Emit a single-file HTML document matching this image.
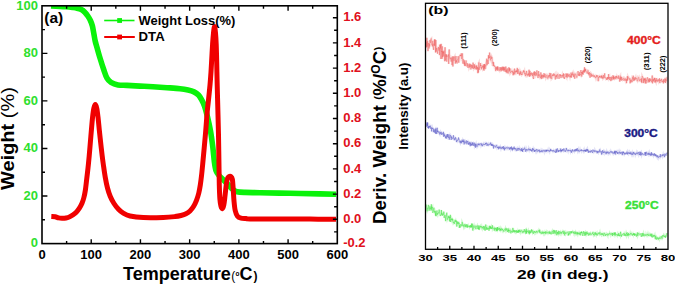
<!DOCTYPE html><html><head><meta charset="utf-8"><style>html,body{margin:0;padding:0;background:#fff;}body{width:675px;height:284px;position:relative;overflow:hidden;font-family:"Liberation Sans",sans-serif;}</style></head><body><svg width="675" height="284" viewBox="0 0 675 284" style="position:absolute;left:0;top:0">
<defs><clipPath id="ca"><rect x="42.00" y="5.80" width="295.30" height="237.80"/></clipPath></defs>
<g clip-path="url(#ca)">
<path d="M51.00,6.00 C52.50,6.07 57.50,6.27 60.00,6.40 C62.50,6.53 63.92,6.62 66.00,6.80 C68.08,6.98 70.67,7.27 72.50,7.50 C74.33,7.73 75.53,7.85 77.00,8.20 C78.47,8.55 80.00,8.93 81.30,9.60 C82.60,10.27 83.72,11.13 84.80,12.20 C85.88,13.27 86.87,14.62 87.80,16.00 C88.73,17.38 89.63,18.83 90.40,20.50 C91.17,22.17 91.82,23.75 92.40,26.00 C92.98,28.25 93.43,31.50 93.90,34.00 C94.37,36.50 94.68,38.75 95.20,41.00 C95.72,43.25 96.20,44.67 97.00,47.50 C97.80,50.33 98.88,54.33 100.00,58.00 C101.12,61.67 102.53,66.13 103.70,69.50 C104.87,72.87 105.78,76.05 107.00,78.20 C108.22,80.35 109.17,81.28 111.00,82.40 C112.83,83.52 115.33,84.40 118.00,84.90 C120.67,85.40 123.33,85.20 127.00,85.40 C130.67,85.60 135.67,85.87 140.00,86.10 C144.33,86.33 148.50,86.53 153.00,86.80 C157.50,87.07 162.50,87.38 167.00,87.70 C171.50,88.02 176.50,88.32 180.00,88.70 C183.50,89.08 185.67,89.47 188.00,90.00 C190.33,90.53 192.25,91.07 194.00,91.90 C195.75,92.73 197.25,93.73 198.50,95.00 C199.75,96.27 200.50,97.67 201.50,99.50 C202.50,101.33 203.50,103.08 204.50,106.00 C205.50,108.92 206.50,112.83 207.50,117.00 C208.50,121.17 209.62,126.00 210.50,131.00 C211.38,136.00 212.15,141.83 212.80,147.00 C213.45,152.17 213.87,158.08 214.40,162.00 C214.93,165.92 215.23,168.25 216.00,170.50 C216.77,172.75 217.78,173.97 219.00,175.50 C220.22,177.03 221.72,178.12 223.30,179.70 C224.88,181.28 226.88,183.35 228.50,185.00 C230.12,186.65 231.58,188.48 233.00,189.60 C234.42,190.72 235.00,191.23 237.00,191.70 C239.00,192.17 241.17,192.23 245.00,192.40 C248.83,192.57 252.50,192.55 260.00,192.70 C267.50,192.85 280.00,193.10 290.00,193.30 C300.00,193.50 312.33,193.73 320.00,193.90 C327.67,194.07 333.33,194.23 336.00,194.30" fill="none" stroke="#0af20a" stroke-width="5.6" stroke-linejoin="round" stroke-linecap="butt"/>
<path d="M51.30,216.60 C51.95,216.63 54.00,216.58 55.20,216.80 C56.40,217.02 57.37,217.65 58.50,217.90 C59.63,218.15 60.75,218.28 62.00,218.30 C63.25,218.32 64.67,218.28 66.00,218.00 C67.33,217.72 68.40,217.45 70.00,216.60 C71.60,215.75 74.08,214.23 75.60,212.90 C77.12,211.57 78.03,210.20 79.10,208.60 C80.17,207.00 81.20,205.15 82.00,203.30 C82.80,201.45 83.33,199.72 83.90,197.50 C84.47,195.28 84.95,192.92 85.40,190.00 C85.85,187.08 86.17,183.67 86.60,180.00 C87.03,176.33 87.57,172.00 88.00,168.00 C88.43,164.00 88.82,160.17 89.20,156.00 C89.58,151.83 89.93,147.33 90.30,143.00 C90.67,138.67 91.02,134.33 91.40,130.00 C91.78,125.67 92.20,120.58 92.60,117.00 C93.00,113.42 93.35,110.57 93.80,108.50 C94.25,106.43 94.80,104.60 95.30,104.60 C95.80,104.60 96.33,106.27 96.80,108.50 C97.27,110.73 97.68,114.42 98.10,118.00 C98.52,121.58 98.87,125.83 99.30,130.00 C99.73,134.17 100.22,138.67 100.70,143.00 C101.18,147.33 101.75,152.33 102.20,156.00 C102.65,159.67 102.90,161.50 103.40,165.00 C103.90,168.50 104.52,173.17 105.20,177.00 C105.88,180.83 106.65,184.75 107.50,188.00 C108.35,191.25 109.22,193.92 110.30,196.50 C111.38,199.08 112.63,201.37 114.00,203.50 C115.37,205.63 116.95,207.68 118.50,209.30 C120.05,210.92 121.38,212.08 123.30,213.20 C125.22,214.32 126.67,215.27 130.00,216.00 C133.33,216.73 137.75,217.35 143.30,217.60 C148.85,217.85 158.02,217.67 163.30,217.50 C168.58,217.33 172.05,216.93 175.00,216.60 C177.95,216.27 179.17,215.97 181.00,215.50 C182.83,215.03 184.50,214.55 186.00,213.80 C187.50,213.05 188.75,212.22 190.00,211.00 C191.25,209.78 192.42,208.28 193.50,206.50 C194.58,204.72 195.62,202.55 196.50,200.30 C197.38,198.05 198.17,195.55 198.80,193.00 C199.43,190.45 199.83,188.00 200.30,185.00 C200.77,182.00 201.18,178.67 201.60,175.00 C202.02,171.33 202.37,167.50 202.80,163.00 C203.23,158.50 203.70,153.50 204.20,148.00 C204.70,142.50 205.30,136.00 205.80,130.00 C206.30,124.00 206.75,117.00 207.20,112.00 C207.65,107.00 208.03,104.50 208.50,100.00 C208.97,95.50 209.58,89.67 210.00,85.00 C210.42,80.33 210.70,76.50 211.00,72.00 C211.30,67.50 211.53,62.67 211.80,58.00 C212.07,53.33 212.32,48.17 212.60,44.00 C212.88,39.83 213.18,35.92 213.50,33.00 C213.82,30.08 214.17,26.50 214.50,26.50 C214.83,26.50 215.22,30.08 215.50,33.00 C215.78,35.92 216.02,39.83 216.20,44.00 C216.38,48.17 216.48,53.33 216.60,58.00 C216.72,62.67 216.80,67.50 216.90,72.00 C217.00,76.50 217.08,80.33 217.20,85.00 C217.32,89.67 217.47,95.00 217.60,100.00 C217.73,105.00 217.85,109.17 218.00,115.00 C218.15,120.83 218.35,127.50 218.50,135.00 C218.65,142.50 218.77,151.67 218.90,160.00 C219.03,168.33 219.13,178.50 219.30,185.00 C219.47,191.50 219.63,195.50 219.90,199.00 C220.17,202.50 220.50,204.40 220.90,206.00 C221.30,207.60 221.82,208.77 222.30,208.60 C222.78,208.43 223.35,207.10 223.80,205.00 C224.25,202.90 224.62,199.17 225.00,196.00 C225.38,192.83 225.72,188.83 226.10,186.00 C226.48,183.17 226.82,180.57 227.30,179.00 C227.78,177.43 228.38,177.00 229.00,176.60 C229.62,176.20 230.43,176.12 231.00,176.60 C231.57,177.08 232.03,177.43 232.40,179.50 C232.77,181.57 232.93,185.42 233.20,189.00 C233.47,192.58 233.67,197.42 234.00,201.00 C234.33,204.58 234.62,207.97 235.20,210.50 C235.78,213.03 236.53,214.92 237.50,216.20 C238.47,217.48 239.58,217.80 241.00,218.20 C242.42,218.60 244.50,218.48 246.00,218.60 C247.50,218.72 244.33,218.83 250.00,218.90 C255.67,218.97 270.00,218.97 280.00,219.00 C290.00,219.03 300.67,219.07 310.00,219.10 C319.33,219.13 331.67,219.18 336.00,219.20" fill="none" stroke="#f00000" stroke-width="5.0" stroke-linejoin="round" stroke-linecap="butt"/>
</g>
<rect x="42.00" y="5.80" width="295.30" height="237.80" fill="none" stroke="#000" stroke-width="1.6"/>
<path d="M66.61,243.60V241.00 M66.61,5.80V8.80 M91.22,243.60V239.30 M91.22,5.80V10.80 M115.83,243.60V241.00 M115.83,5.80V8.80 M140.43,243.60V239.30 M140.43,5.80V10.80 M165.04,243.60V241.00 M165.04,5.80V8.80 M189.65,243.60V239.30 M189.65,5.80V10.80 M214.26,243.60V241.00 M214.26,5.80V8.80 M238.87,243.60V239.30 M238.87,5.80V10.80 M263.48,243.60V241.00 M263.48,5.80V8.80 M288.08,243.60V239.30 M288.08,5.80V10.80 M312.69,243.60V241.00 M312.69,5.80V8.80 M42.00,219.82H45.00 M42.00,196.04H47.40 M42.00,172.26H45.00 M42.00,148.48H47.40 M42.00,124.70H45.00 M42.00,100.92H47.40 M42.00,77.14H45.00 M42.00,53.36H47.40 M42.00,29.58H45.00 M337.30,231.90H334.10 M337.30,219.30H332.90 M337.30,206.70H334.10 M337.30,194.10H332.90 M337.30,181.50H334.10 M337.30,168.90H332.90 M337.30,156.30H334.10 M337.30,143.70H332.90 M337.30,131.10H334.10 M337.30,118.50H332.90 M337.30,105.90H334.10 M337.30,93.30H332.90 M337.30,80.70H334.10 M337.30,68.10H332.90 M337.30,55.50H334.10 M337.30,42.90H332.90 M337.30,30.30H334.10 M337.30,17.70H332.90" stroke="#000" stroke-width="1.4" fill="none"/>
<text x="42.00" y="259.3" text-anchor="middle" style="font-family:'Liberation Sans',sans-serif;font-weight:bold;font-size:13px" fill="#000">0</text>
<text x="91.22" y="259.3" text-anchor="middle" style="font-family:'Liberation Sans',sans-serif;font-weight:bold;font-size:13px" fill="#000">100</text>
<text x="140.43" y="259.3" text-anchor="middle" style="font-family:'Liberation Sans',sans-serif;font-weight:bold;font-size:13px" fill="#000">200</text>
<text x="189.65" y="259.3" text-anchor="middle" style="font-family:'Liberation Sans',sans-serif;font-weight:bold;font-size:13px" fill="#000">300</text>
<text x="238.87" y="259.3" text-anchor="middle" style="font-family:'Liberation Sans',sans-serif;font-weight:bold;font-size:13px" fill="#000">400</text>
<text x="288.08" y="259.3" text-anchor="middle" style="font-family:'Liberation Sans',sans-serif;font-weight:bold;font-size:13px" fill="#000">500</text>
<text x="337.30" y="259.3" text-anchor="middle" style="font-family:'Liberation Sans',sans-serif;font-weight:bold;font-size:13px" fill="#000">600</text>
<text x="38.0" y="247.20" text-anchor="end" style="font-family:'Liberation Sans',sans-serif;font-weight:bold;font-size:13px" fill="#2ee02e">0</text>
<text x="38.0" y="199.64" text-anchor="end" style="font-family:'Liberation Sans',sans-serif;font-weight:bold;font-size:13px" fill="#2ee02e">20</text>
<text x="38.0" y="152.08" text-anchor="end" style="font-family:'Liberation Sans',sans-serif;font-weight:bold;font-size:13px" fill="#2ee02e">40</text>
<text x="38.0" y="104.52" text-anchor="end" style="font-family:'Liberation Sans',sans-serif;font-weight:bold;font-size:13px" fill="#2ee02e">60</text>
<text x="38.0" y="56.96" text-anchor="end" style="font-family:'Liberation Sans',sans-serif;font-weight:bold;font-size:13px" fill="#2ee02e">80</text>
<text x="38.0" y="10.40" text-anchor="end" style="font-family:'Liberation Sans',sans-serif;font-weight:bold;font-size:13px" fill="#2ee02e">100</text>
<text x="343.2" y="246.90" style="font-family:'Liberation Sans',sans-serif;font-weight:bold;font-size:13px" fill="#e01020">-0.2</text>
<text x="343.2" y="222.90" style="font-family:'Liberation Sans',sans-serif;font-weight:bold;font-size:13px" fill="#e01020">0.0</text>
<text x="343.2" y="197.70" style="font-family:'Liberation Sans',sans-serif;font-weight:bold;font-size:13px" fill="#e01020">0.2</text>
<text x="343.2" y="172.50" style="font-family:'Liberation Sans',sans-serif;font-weight:bold;font-size:13px" fill="#e01020">0.4</text>
<text x="343.2" y="147.30" style="font-family:'Liberation Sans',sans-serif;font-weight:bold;font-size:13px" fill="#e01020">0.6</text>
<text x="343.2" y="122.10" style="font-family:'Liberation Sans',sans-serif;font-weight:bold;font-size:13px" fill="#e01020">0.8</text>
<text x="343.2" y="96.90" style="font-family:'Liberation Sans',sans-serif;font-weight:bold;font-size:13px" fill="#e01020">1.0</text>
<text x="343.2" y="71.70" style="font-family:'Liberation Sans',sans-serif;font-weight:bold;font-size:13px" fill="#e01020">1.2</text>
<text x="343.2" y="46.50" style="font-family:'Liberation Sans',sans-serif;font-weight:bold;font-size:13px" fill="#e01020">1.4</text>
<text x="343.2" y="21.30" style="font-family:'Liberation Sans',sans-serif;font-weight:bold;font-size:13px" fill="#e01020">1.6</text>
<text x="44.3" y="22.7" style="font-family:'Liberation Sans',sans-serif;font-weight:bold;font-size:15.5px" fill="#000">(a)</text>
<path d="M104.2,20.5H134.5" stroke="#0af20a" stroke-width="1.6"/>
<rect x="117.2" y="18.1" width="4.8" height="4.8" fill="#0af20a"/>
<path d="M104.2,37H134.8" stroke="#f00000" stroke-width="2"/>
<rect x="117.2" y="34.6" width="4.8" height="4.8" fill="#f00000"/>
<text x="138.6" y="25.3" style="font-family:'Liberation Sans',sans-serif;font-weight:bold;font-size:12.95px" fill="#000">Weight Loss(%)</text>
<text x="138.6" y="41.0" style="font-family:'Liberation Sans',sans-serif;font-weight:bold;font-size:13.2px" fill="#000">DTA</text>
<text x="123" y="279.7" style="font-family:'Liberation Sans',sans-serif;font-weight:bold;font-size:18px" fill="#000">Temperature</text>
<text x="231.2" y="280.1" style="font-family:'Liberation Sans',sans-serif;font-size:12px" fill="#000">(</text>
<text x="235.5" y="275.6" style="font-family:'Liberation Sans',sans-serif;font-size:6.4px;font-weight:bold" fill="#000">o</text>
<text x="239.4" y="279.7" style="font-family:'Liberation Sans',sans-serif;font-weight:bold;font-size:18px" fill="#000">C</text>
<text x="253.6" y="280.1" style="font-family:'Liberation Sans',sans-serif;font-size:12px;font-weight:bold" fill="#000">)</text>
<text transform="translate(13.7,190.0) rotate(-90) scale(1.08,1)" style="font-family:'Liberation Sans',sans-serif;font-weight:bold;font-size:18.5px" fill="#000">Weight <tspan style="font-weight:normal">(%)</tspan></text>
<text transform="translate(385.6,224) rotate(-90)" style="font-family:'Liberation Sans',sans-serif;font-weight:bold;font-size:18.6px;letter-spacing:0.15px" fill="#000">Deriv. Weight <tspan style="font-size:11.5px" dy="-3.3">(</tspan><tspan dy="3.3">%/</tspan><tspan style="font-size:12px" dy="-5.5">O</tspan><tspan dy="5.5">C</tspan><tspan style="font-size:11.5px" dy="-3.3">)</tspan></text>
<g fill="none" stroke-linejoin="miter">
<path d="M426.30,41.95 L426.58,47.36 L426.86,37.75 L427.14,46.57 L427.42,41.19 L427.70,41.39 L427.98,51.11 L428.26,43.65 L428.54,42.97 L428.82,46.53 L429.10,48.44 L429.38,43.65 L429.66,46.50 L429.94,40.05 L430.22,42.84 L430.50,42.75 L430.78,39.22 L431.06,38.71 L431.34,38.45 L431.62,44.43 L431.90,44.91 L432.18,44.52 L432.46,46.32 L432.74,40.82 L433.02,46.12 L433.30,47.61 L433.58,49.86 L433.86,43.69 L434.14,45.68 L434.42,39.51 L434.70,45.69 L434.98,39.28 L435.26,42.56 L435.54,52.56 L435.82,40.00 L436.10,51.78 L436.38,50.17 L436.66,47.93 L436.94,51.07 L437.22,51.53 L437.50,53.68 L437.78,49.09 L438.06,47.96 L438.34,48.13 L438.62,46.93 L438.90,50.62 L439.18,48.11 L439.46,55.09 L439.74,44.62 L440.02,47.66 L440.30,48.39 L440.58,44.52 L440.86,59.02 L441.14,43.88 L441.42,51.64 L441.70,51.00 L441.98,58.87 L442.26,46.32 L442.54,57.20 L442.82,51.14 L443.10,53.34 L443.38,51.77 L443.66,56.48 L443.94,50.61 L444.22,54.43 L444.50,56.10 L444.78,61.31 L445.06,47.22 L445.34,60.56 L445.62,58.78 L445.90,54.18 L446.18,56.95 L446.46,54.57 L446.74,61.66 L447.02,57.10 L447.30,55.87 L447.58,55.99 L447.86,56.24 L448.14,56.48 L448.42,54.38 L448.70,63.93 L448.98,51.43 L449.26,49.42 L449.54,57.43 L449.82,57.51 L450.10,59.28 L450.38,57.63 L450.66,57.95 L450.94,59.59 L451.22,61.69 L451.50,57.46 L451.78,57.84 L452.06,65.05 L452.34,60.87 L452.62,56.39 L452.90,66.54 L453.18,61.98 L453.46,57.99 L453.74,56.35 L454.02,60.87 L454.30,57.61 L454.58,57.05 L454.86,56.44 L455.14,58.83 L455.42,63.58 L455.70,59.06 L455.98,56.09 L456.26,62.23 L456.54,60.43 L456.82,62.60 L457.10,63.53 L457.38,59.47 L457.66,59.39 L457.94,59.48 L458.22,56.17 L458.50,61.02 L458.78,62.70 L459.06,58.99 L459.34,57.49 L459.62,57.10 L459.90,55.34 L460.18,55.05 L460.46,56.04 L460.74,54.83 L461.02,56.10 L461.30,53.27 L461.58,58.97 L461.86,58.65 L462.14,55.93 L462.42,53.39 L462.70,60.15 L462.98,63.68 L463.26,59.23 L463.54,60.37 L463.82,60.56 L464.10,64.20 L464.38,60.39 L464.66,65.75 L464.94,62.64 L465.22,66.12 L465.50,63.99 L465.78,63.50 L466.06,60.44 L466.34,62.68 L466.62,63.95 L466.90,66.49 L467.18,65.56 L467.46,63.27 L467.74,66.24 L468.02,67.84 L468.30,65.05 L468.58,64.43 L468.86,64.66 L469.14,67.82 L469.42,67.22 L469.70,63.62 L469.98,67.00 L470.26,64.95 L470.54,64.36 L470.82,69.42 L471.10,68.46 L471.38,64.70 L471.66,66.78 L471.94,67.91 L472.22,65.17 L472.50,66.53 L472.78,68.54 L473.06,62.60 L473.34,67.85 L473.62,68.92 L473.90,68.42 L474.18,64.02 L474.46,68.10 L474.74,65.32 L475.02,68.83 L475.30,68.93 L475.58,68.02 L475.86,65.69 L476.14,66.12 L476.42,69.57 L476.70,65.42 L476.98,68.73 L477.26,68.77 L477.54,66.91 L477.82,73.20 L478.10,67.74 L478.38,72.59 L478.66,62.86 L478.94,62.33 L479.22,69.83 L479.50,69.01 L479.78,66.79 L480.06,67.36 L480.34,63.07 L480.62,65.98 L480.90,65.02 L481.18,66.84 L481.46,69.32 L481.74,67.36 L482.02,68.02 L482.30,65.51 L482.58,66.03 L482.86,67.17 L483.14,66.17 L483.42,69.53 L483.70,64.57 L483.98,70.63 L484.26,64.01 L484.54,68.37 L484.82,64.05 L485.10,69.19 L485.38,65.53 L485.66,65.78 L485.94,66.17 L486.22,62.70 L486.50,61.33 L486.78,58.64 L487.06,65.21 L487.34,60.36 L487.62,59.89 L487.90,60.38 L488.18,64.01 L488.46,55.12 L488.74,58.67 L489.02,56.57 L489.30,58.01 L489.58,52.56 L489.86,55.39 L490.14,58.09 L490.42,59.88 L490.70,60.40 L490.98,55.75 L491.26,58.44 L491.54,58.90 L491.82,57.02 L492.10,57.71 L492.38,63.18 L492.66,62.83 L492.94,62.69 L493.22,66.20 L493.50,62.07 L493.78,65.82 L494.06,65.19 L494.34,65.46 L494.62,66.99 L494.90,66.67 L495.18,67.16 L495.46,67.43 L495.74,71.17 L496.02,66.70 L496.30,69.66 L496.58,69.00 L496.86,67.18 L497.14,69.71 L497.42,66.43 L497.70,70.74 L497.98,66.78 L498.26,67.56 L498.54,69.34 L498.82,70.48 L499.10,70.72 L499.38,70.78 L499.66,68.60 L499.94,67.14 L500.22,70.29 L500.50,69.85 L500.78,67.35 L501.06,71.33 L501.34,69.81 L501.62,67.52 L501.90,70.40 L502.18,66.87 L502.46,67.83 L502.74,70.46 L503.02,66.55 L503.30,69.80 L503.58,67.05 L503.86,71.29 L504.14,68.38 L504.42,70.24 L504.70,66.90 L504.98,69.25 L505.26,71.90 L505.54,70.98 L505.82,66.47 L506.10,72.03 L506.38,72.03 L506.66,69.57 L506.94,73.19 L507.22,68.34 L507.50,70.33 L507.78,72.76 L508.06,73.20 L508.34,73.19 L508.62,68.57 L508.90,67.28 L509.18,71.61 L509.46,68.08 L509.74,70.69 L510.02,68.49 L510.30,73.14 L510.58,72.69 L510.86,72.26 L511.14,71.26 L511.42,71.37 L511.70,70.75 L511.98,72.13 L512.26,71.92 L512.54,72.38 L512.82,70.71 L513.10,75.27 L513.38,72.19 L513.66,74.39 L513.94,74.32 L514.22,70.10 L514.50,68.60 L514.78,74.32 L515.06,71.21 L515.34,72.16 L515.62,71.56 L515.90,72.35 L516.18,69.87 L516.46,72.01 L516.74,71.37 L517.02,72.28 L517.30,67.89 L517.58,73.97 L517.86,73.09 L518.14,69.21 L518.42,71.16 L518.70,72.66 L518.98,73.85 L519.26,72.70 L519.54,75.38 L519.82,72.84 L520.10,70.95 L520.38,71.60 L520.66,74.33 L520.94,71.80 L521.22,74.58 L521.50,74.96 L521.78,74.18 L522.06,75.02 L522.34,72.81 L522.62,73.16 L522.90,72.10 L523.18,72.11 L523.46,70.35 L523.74,72.28 L524.02,71.36 L524.30,70.73 L524.58,73.71 L524.86,74.32 L525.14,72.87 L525.42,76.10 L525.70,75.34 L525.98,75.57 L526.26,72.53 L526.54,70.91 L526.82,74.76 L527.10,74.33 L527.38,75.15 L527.66,74.61 L527.94,76.21 L528.22,73.37 L528.50,75.18 L528.78,72.32 L529.06,69.74 L529.34,73.23 L529.62,76.86 L529.90,71.03 L530.18,76.03 L530.46,72.94 L530.74,73.49 L531.02,74.35 L531.30,74.69 L531.58,72.54 L531.86,74.60 L532.14,75.22 L532.42,75.98 L532.70,73.09 L532.98,77.36 L533.26,78.05 L533.54,79.01 L533.82,72.17 L534.10,74.97 L534.38,71.29 L534.66,75.42 L534.94,75.78 L535.22,72.70 L535.50,71.94 L535.78,75.21 L536.06,76.05 L536.34,73.49 L536.62,74.50 L536.90,70.41 L537.18,73.76 L537.46,75.35 L537.74,75.39 L538.02,78.03 L538.30,73.11 L538.58,71.13 L538.86,76.08 L539.14,74.22 L539.42,75.85 L539.70,76.66 L539.98,76.48 L540.26,78.02 L540.54,77.87 L540.82,72.43 L541.10,75.34 L541.38,79.08 L541.66,74.75 L541.94,77.24 L542.22,75.41 L542.50,74.77 L542.78,78.39 L543.06,77.43 L543.34,75.13 L543.62,77.21 L543.90,73.23 L544.18,74.30 L544.46,77.24 L544.74,75.70 L545.02,73.74 L545.30,76.47 L545.58,76.26 L545.86,77.99 L546.14,77.42 L546.42,75.22 L546.70,74.86 L546.98,75.49 L547.26,75.34 L547.54,78.38 L547.82,78.62 L548.10,78.22 L548.38,76.49 L548.66,75.38 L548.94,77.45 L549.22,75.23 L549.50,76.28 L549.78,72.90 L550.06,75.13 L550.34,78.47 L550.62,74.09 L550.90,73.27 L551.18,75.65 L551.46,78.92 L551.74,78.55 L552.02,75.34 L552.30,75.14 L552.58,75.81 L552.86,74.36 L553.14,76.09 L553.42,75.51 L553.70,73.44 L553.98,75.04 L554.26,75.63 L554.54,74.57 L554.82,74.12 L555.10,77.72 L555.38,79.49 L555.66,75.64 L555.94,75.40 L556.22,77.06 L556.50,75.78 L556.78,74.81 L557.06,78.66 L557.34,74.38 L557.62,74.94 L557.90,75.07 L558.18,74.69 L558.46,75.84 L558.74,77.29 L559.02,78.83 L559.30,77.47 L559.58,76.37 L559.86,74.12 L560.14,76.22 L560.42,74.66 L560.70,76.15 L560.98,78.04 L561.26,76.67 L561.54,75.94 L561.82,74.98 L562.10,76.26 L562.38,76.49 L562.66,74.66 L562.94,75.40 L563.22,77.83 L563.50,73.36 L563.78,75.50 L564.06,74.22 L564.34,78.98 L564.62,77.32 L564.90,77.16 L565.18,76.95 L565.46,76.75 L565.74,76.75 L566.02,73.45 L566.30,76.68 L566.58,77.26 L566.86,73.71 L567.14,77.65 L567.42,77.36 L567.70,73.52 L567.98,75.35 L568.26,75.63 L568.54,75.24 L568.82,76.83 L569.10,73.91 L569.38,75.74 L569.66,76.51 L569.94,77.37 L570.22,76.18 L570.50,75.66 L570.78,77.27 L571.06,72.58 L571.34,77.66 L571.62,75.48 L571.90,73.82 L572.18,75.23 L572.46,72.77 L572.74,72.38 L573.02,75.35 L573.30,74.54 L573.58,77.15 L573.86,74.30 L574.14,73.56 L574.42,74.12 L574.70,78.74 L574.98,75.77 L575.26,74.62 L575.54,73.92 L575.82,73.69 L576.10,75.27 L576.38,76.26 L576.66,77.46 L576.94,77.40 L577.22,75.82 L577.50,74.14 L577.78,73.72 L578.06,71.12 L578.34,73.29 L578.62,75.70 L578.90,74.28 L579.18,75.40 L579.46,72.31 L579.74,76.09 L580.02,74.91 L580.30,74.34 L580.58,74.82 L580.86,70.09 L581.14,72.83 L581.42,72.06 L581.70,76.56 L581.98,72.88 L582.26,72.10 L582.54,74.21 L582.82,70.66 L583.10,74.69 L583.38,70.75 L583.66,71.61 L583.94,69.89 L584.22,72.65 L584.50,67.30 L584.78,72.11 L585.06,69.39 L585.34,70.85 L585.62,68.78 L585.90,71.23 L586.18,71.29 L586.46,72.15 L586.74,71.89 L587.02,72.67 L587.30,73.58 L587.58,71.47 L587.86,70.39 L588.14,70.50 L588.42,74.17 L588.70,72.61 L588.98,75.34 L589.26,73.84 L589.54,72.24 L589.82,75.77 L590.10,77.76 L590.38,74.28 L590.66,73.15 L590.94,73.47 L591.22,76.61 L591.50,74.21 L591.78,74.64 L592.06,76.64 L592.34,75.59 L592.62,75.88 L592.90,74.84 L593.18,74.76 L593.46,76.23 L593.74,76.30 L594.02,77.12 L594.30,75.31 L594.58,76.84 L594.86,77.12 L595.14,76.51 L595.42,77.40 L595.70,78.21 L595.98,76.86 L596.26,76.71 L596.54,74.95 L596.82,77.23 L597.10,76.54 L597.38,76.21 L597.66,75.36 L597.94,77.81 L598.22,81.26 L598.50,77.64 L598.78,77.08 L599.06,77.71 L599.34,75.97 L599.62,77.19 L599.90,75.91 L600.18,75.98 L600.46,77.51 L600.74,77.53 L601.02,76.97 L601.30,75.83 L601.58,77.67 L601.86,75.37 L602.14,78.59 L602.42,76.70 L602.70,77.32 L602.98,78.69 L603.26,78.32 L603.54,75.16 L603.82,76.98 L604.10,78.06 L604.38,75.58 L604.66,73.34 L604.94,77.37 L605.22,77.43 L605.50,78.27 L605.78,77.69 L606.06,77.80 L606.34,78.00 L606.62,79.97 L606.90,78.46 L607.18,78.58 L607.46,77.00 L607.74,79.62 L608.02,77.39 L608.30,78.99 L608.58,74.13 L608.86,78.18 L609.14,77.61 L609.42,77.01 L609.70,80.02 L609.98,78.53 L610.26,77.61 L610.54,76.97 L610.82,81.10 L611.10,79.18 L611.38,79.04 L611.66,76.63 L611.94,80.19 L612.22,78.93 L612.50,77.53 L612.78,77.82 L613.06,75.24 L613.34,79.15 L613.62,76.18 L613.90,79.51 L614.18,77.33 L614.46,77.04 L614.74,78.75 L615.02,78.49 L615.30,76.22 L615.58,78.04 L615.86,79.22 L616.14,77.77 L616.42,75.92 L616.70,77.81 L616.98,76.60 L617.26,77.27 L617.54,78.36 L617.82,78.20 L618.10,77.95 L618.38,75.50 L618.66,78.93 L618.94,78.01 L619.22,77.67 L619.50,78.65 L619.78,81.69 L620.06,76.22 L620.34,75.69 L620.62,79.75 L620.90,77.12 L621.18,80.69 L621.46,76.81 L621.74,77.68 L622.02,79.94 L622.30,80.09 L622.58,79.31 L622.86,79.34 L623.14,78.36 L623.42,77.85 L623.70,78.26 L623.98,80.79 L624.26,79.85 L624.54,78.69 L624.82,79.21 L625.10,80.10 L625.38,80.71 L625.66,78.49 L625.94,78.60 L626.22,79.31 L626.50,83.19 L626.78,79.19 L627.06,80.95 L627.34,76.20 L627.62,80.26 L627.90,76.45 L628.18,77.01 L628.46,77.79 L628.74,78.64 L629.02,79.20 L629.30,79.53 L629.58,79.30 L629.86,78.19 L630.14,83.35 L630.42,79.63 L630.70,80.11 L630.98,82.43 L631.26,80.65 L631.54,80.01 L631.82,79.59 L632.10,82.22 L632.38,77.24 L632.66,77.46 L632.94,79.34 L633.22,75.66 L633.50,77.81 L633.78,81.05 L634.06,78.38 L634.34,79.45 L634.62,80.36 L634.90,77.23 L635.18,79.67 L635.46,78.16 L635.74,77.39 L636.02,78.79 L636.30,79.18 L636.58,78.61 L636.86,78.18 L637.14,80.93 L637.42,81.28 L637.70,80.28 L637.98,79.19 L638.26,77.59 L638.54,78.00 L638.82,77.53 L639.10,79.77 L639.38,80.97 L639.66,80.99 L639.94,79.42 L640.22,78.82 L640.50,79.78 L640.78,79.70 L641.06,80.51 L641.34,82.00 L641.62,78.37 L641.90,83.07 L642.18,75.99 L642.46,76.54 L642.74,77.00 L643.02,77.84 L643.30,79.19 L643.58,83.08 L643.86,78.42 L644.14,81.48 L644.42,79.01 L644.70,79.89 L644.98,77.92 L645.26,83.49 L645.54,79.60 L645.82,78.64 L646.10,83.53 L646.38,80.00 L646.66,80.41 L646.94,79.47 L647.22,78.32 L647.50,77.32 L647.78,79.45 L648.06,82.49 L648.34,80.48 L648.62,79.48 L648.90,81.58 L649.18,78.22 L649.46,82.13 L649.74,79.79 L650.02,78.43 L650.30,80.98 L650.58,80.72 L650.86,79.28 L651.14,80.23 L651.42,81.53 L651.70,82.26 L651.98,78.47 L652.26,75.48 L652.54,83.38 L652.82,79.49 L653.10,79.24 L653.38,80.68 L653.66,79.24 L653.94,81.73 L654.22,77.88 L654.50,79.65 L654.78,77.88 L655.06,82.59 L655.34,79.61 L655.62,81.89 L655.90,82.39 L656.18,78.04 L656.46,79.69 L656.74,81.29 L657.02,80.17 L657.30,79.87 L657.58,81.52 L657.86,81.66 L658.14,79.12 L658.42,79.91 L658.70,81.24 L658.98,80.51 L659.26,80.40 L659.54,78.28 L659.82,83.15 L660.10,79.81 L660.38,80.66 L660.66,80.16 L660.94,80.34 L661.22,80.49 L661.50,78.84 L661.78,80.89 L662.06,82.30 L662.34,80.95 L662.62,81.51 L662.90,81.12 L663.18,80.36 L663.46,83.38 L663.74,79.18 L664.02,80.99 L664.30,82.08 L664.58,80.85 L664.86,78.59 L665.14,78.54 L665.42,83.03 L665.70,78.78 L665.98,80.42 L666.26,81.34 L666.54,80.59 L666.82,77.44 L667.10,77.24" stroke="#f49a9a" stroke-width="2.2" stroke-opacity="0.35"/>
<path d="M426.30,123.54 L426.58,123.74 L426.86,126.75 L427.14,122.26 L427.42,125.77 L427.70,122.63 L427.98,127.99 L428.26,126.75 L428.54,128.67 L428.82,125.96 L429.10,127.48 L429.38,126.59 L429.66,126.05 L429.94,127.54 L430.22,125.57 L430.50,127.08 L430.78,128.80 L431.06,127.99 L431.34,127.44 L431.62,131.44 L431.90,128.43 L432.18,127.63 L432.46,128.88 L432.74,128.03 L433.02,128.38 L433.30,128.58 L433.58,132.16 L433.86,129.41 L434.14,129.78 L434.42,130.64 L434.70,132.70 L434.98,129.65 L435.26,129.23 L435.54,133.76 L435.82,128.34 L436.10,130.03 L436.38,131.63 L436.66,134.03 L436.94,129.66 L437.22,127.76 L437.50,132.19 L437.78,130.70 L438.06,131.03 L438.34,132.34 L438.62,132.16 L438.90,132.40 L439.18,131.56 L439.46,134.04 L439.74,134.48 L440.02,132.63 L440.30,132.12 L440.58,133.86 L440.86,133.66 L441.14,131.77 L441.42,132.70 L441.70,134.85 L441.98,133.47 L442.26,133.31 L442.54,134.17 L442.82,133.99 L443.10,134.18 L443.38,131.80 L443.66,136.75 L443.94,134.88 L444.22,133.62 L444.50,136.18 L444.78,135.45 L445.06,135.21 L445.34,136.64 L445.62,138.30 L445.90,136.22 L446.18,137.64 L446.46,138.47 L446.74,134.54 L447.02,135.28 L447.30,137.03 L447.58,134.00 L447.86,135.93 L448.14,138.00 L448.42,137.79 L448.70,137.31 L448.98,134.33 L449.26,139.73 L449.54,137.60 L449.82,137.97 L450.10,137.74 L450.38,135.12 L450.66,135.58 L450.94,135.96 L451.22,139.91 L451.50,136.65 L451.78,137.48 L452.06,137.57 L452.34,138.68 L452.62,138.70 L452.90,138.53 L453.18,136.79 L453.46,135.28 L453.74,138.73 L454.02,138.95 L454.30,140.22 L454.58,138.72 L454.86,138.23 L455.14,139.55 L455.42,137.32 L455.70,138.04 L455.98,138.19 L456.26,139.83 L456.54,142.07 L456.82,140.61 L457.10,141.16 L457.38,140.20 L457.66,140.35 L457.94,139.61 L458.22,139.91 L458.50,137.51 L458.78,139.05 L459.06,139.07 L459.34,141.64 L459.62,141.54 L459.90,142.20 L460.18,142.77 L460.46,140.69 L460.74,142.34 L461.02,143.45 L461.30,141.27 L461.58,142.60 L461.86,141.24 L462.14,139.67 L462.42,141.72 L462.70,140.73 L462.98,141.86 L463.26,141.29 L463.54,142.25 L463.82,139.55 L464.10,144.40 L464.38,143.65 L464.66,141.80 L464.94,141.25 L465.22,142.35 L465.50,143.18 L465.78,142.97 L466.06,143.02 L466.34,140.45 L466.62,141.46 L466.90,144.30 L467.18,143.14 L467.46,141.26 L467.74,142.06 L468.02,141.50 L468.30,142.04 L468.58,144.55 L468.86,143.08 L469.14,144.64 L469.42,143.68 L469.70,141.87 L469.98,142.90 L470.26,146.23 L470.54,142.91 L470.82,142.67 L471.10,145.28 L471.38,144.08 L471.66,144.04 L471.94,145.75 L472.22,142.24 L472.50,144.72 L472.78,143.17 L473.06,142.85 L473.34,143.57 L473.62,145.81 L473.90,144.45 L474.18,142.66 L474.46,143.52 L474.74,146.48 L475.02,146.00 L475.30,143.74 L475.58,147.66 L475.86,144.66 L476.14,143.79 L476.42,144.95 L476.70,146.12 L476.98,146.86 L477.26,146.22 L477.54,144.63 L477.82,144.48 L478.10,143.51 L478.38,145.00 L478.66,144.43 L478.94,145.33 L479.22,143.68 L479.50,144.48 L479.78,144.07 L480.06,143.70 L480.34,143.70 L480.62,143.85 L480.90,143.65 L481.18,145.50 L481.46,144.96 L481.74,143.40 L482.02,145.32 L482.30,145.03 L482.58,146.24 L482.86,144.41 L483.14,144.34 L483.42,143.76 L483.70,144.57 L483.98,144.89 L484.26,144.48 L484.54,143.96 L484.82,144.76 L485.10,144.18 L485.38,144.28 L485.66,142.97 L485.94,144.13 L486.22,142.81 L486.50,142.94 L486.78,143.98 L487.06,146.03 L487.34,144.86 L487.62,143.84 L487.90,143.69 L488.18,144.97 L488.46,145.45 L488.74,145.36 L489.02,143.97 L489.30,144.46 L489.58,144.02 L489.86,144.18 L490.14,143.70 L490.42,144.46 L490.70,142.59 L490.98,143.71 L491.26,145.53 L491.54,144.23 L491.82,145.88 L492.10,144.07 L492.38,145.15 L492.66,146.05 L492.94,144.65 L493.22,145.08 L493.50,148.49 L493.78,145.29 L494.06,145.35 L494.34,145.57 L494.62,146.28 L494.90,146.29 L495.18,147.41 L495.46,147.28 L495.74,146.11 L496.02,146.22 L496.30,145.19 L496.58,145.17 L496.86,146.01 L497.14,147.59 L497.42,147.02 L497.70,147.78 L497.98,147.97 L498.26,146.88 L498.54,149.27 L498.82,146.62 L499.10,146.56 L499.38,146.81 L499.66,148.47 L499.94,147.21 L500.22,146.64 L500.50,147.89 L500.78,148.65 L501.06,147.42 L501.34,147.32 L501.62,148.73 L501.90,148.67 L502.18,148.67 L502.46,146.97 L502.74,148.08 L503.02,148.20 L503.30,146.04 L503.58,149.14 L503.86,148.05 L504.14,147.64 L504.42,150.34 L504.70,148.22 L504.98,147.38 L505.26,148.07 L505.54,148.73 L505.82,149.01 L506.10,148.15 L506.38,147.35 L506.66,147.55 L506.94,147.45 L507.22,147.23 L507.50,148.30 L507.78,147.85 L508.06,148.42 L508.34,147.55 L508.62,147.53 L508.90,148.24 L509.18,148.10 L509.46,149.64 L509.74,147.58 L510.02,148.73 L510.30,148.50 L510.58,147.24 L510.86,149.32 L511.14,148.77 L511.42,146.51 L511.70,149.25 L511.98,149.61 L512.26,147.89 L512.54,150.41 L512.82,148.88 L513.10,147.59 L513.38,149.33 L513.66,148.43 L513.94,147.47 L514.22,146.68 L514.50,149.10 L514.78,148.13 L515.06,149.54 L515.34,149.30 L515.62,148.41 L515.90,148.42 L516.18,150.74 L516.46,150.70 L516.74,149.76 L517.02,148.68 L517.30,148.07 L517.58,148.69 L517.86,150.75 L518.14,149.57 L518.42,148.84 L518.70,147.93 L518.98,149.34 L519.26,148.31 L519.54,149.22 L519.82,149.97 L520.10,150.32 L520.38,149.41 L520.66,148.95 L520.94,149.54 L521.22,151.12 L521.50,149.72 L521.78,147.98 L522.06,150.93 L522.34,149.66 L522.62,151.97 L522.90,148.98 L523.18,149.38 L523.46,149.19 L523.74,149.88 L524.02,148.95 L524.30,148.08 L524.58,147.66 L524.86,149.46 L525.14,149.10 L525.42,149.05 L525.70,151.74 L525.98,150.45 L526.26,150.76 L526.54,149.21 L526.82,150.02 L527.10,149.54 L527.38,149.56 L527.66,150.52 L527.94,150.40 L528.22,150.12 L528.50,149.99 L528.78,148.44 L529.06,149.15 L529.34,150.28 L529.62,149.56 L529.90,149.17 L530.18,150.31 L530.46,149.07 L530.74,149.34 L531.02,150.89 L531.30,149.68 L531.58,151.46 L531.86,150.59 L532.14,150.89 L532.42,151.23 L532.70,148.01 L532.98,150.07 L533.26,148.90 L533.54,149.74 L533.82,150.11 L534.10,151.45 L534.38,150.21 L534.66,151.88 L534.94,149.77 L535.22,150.25 L535.50,150.42 L535.78,151.27 L536.06,150.32 L536.34,149.78 L536.62,150.08 L536.90,149.05 L537.18,151.68 L537.46,151.19 L537.74,150.90 L538.02,150.77 L538.30,149.93 L538.58,150.14 L538.86,151.35 L539.14,149.81 L539.42,149.83 L539.70,152.16 L539.98,152.16 L540.26,150.94 L540.54,151.19 L540.82,150.88 L541.10,152.10 L541.38,150.30 L541.66,150.83 L541.94,151.24 L542.22,152.19 L542.50,150.57 L542.78,151.06 L543.06,150.37 L543.34,150.23 L543.62,150.25 L543.90,150.99 L544.18,151.79 L544.46,150.27 L544.74,150.38 L545.02,150.59 L545.30,151.32 L545.58,151.65 L545.86,149.75 L546.14,151.30 L546.42,149.98 L546.70,151.63 L546.98,150.00 L547.26,149.88 L547.54,150.23 L547.82,150.85 L548.10,149.94 L548.38,151.10 L548.66,151.03 L548.94,150.97 L549.22,151.14 L549.50,151.72 L549.78,150.16 L550.06,150.86 L550.34,150.82 L550.62,148.86 L550.90,151.21 L551.18,150.09 L551.46,150.13 L551.74,150.39 L552.02,150.90 L552.30,151.12 L552.58,151.26 L552.86,150.12 L553.14,151.45 L553.42,151.18 L553.70,150.39 L553.98,150.74 L554.26,151.53 L554.54,151.16 L554.82,151.41 L555.10,150.84 L555.38,151.82 L555.66,152.85 L555.94,151.15 L556.22,149.17 L556.50,152.36 L556.78,150.15 L557.06,149.36 L557.34,148.40 L557.62,151.08 L557.90,151.72 L558.18,151.62 L558.46,150.28 L558.74,152.03 L559.02,150.56 L559.30,150.06 L559.58,150.69 L559.86,150.82 L560.14,150.66 L560.42,150.99 L560.70,148.50 L560.98,152.09 L561.26,150.04 L561.54,151.20 L561.82,149.80 L562.10,150.72 L562.38,150.39 L562.66,149.03 L562.94,150.91 L563.22,151.14 L563.50,149.46 L563.78,148.51 L564.06,149.90 L564.34,149.70 L564.62,150.61 L564.90,150.48 L565.18,152.03 L565.46,151.10 L565.74,150.23 L566.02,150.62 L566.30,147.97 L566.58,149.59 L566.86,149.56 L567.14,150.33 L567.42,150.74 L567.70,150.63 L567.98,151.31 L568.26,149.75 L568.54,150.69 L568.82,150.27 L569.10,150.40 L569.38,150.69 L569.66,150.11 L569.94,150.57 L570.22,150.33 L570.50,151.33 L570.78,150.24 L571.06,150.63 L571.34,152.81 L571.62,150.92 L571.90,150.81 L572.18,151.34 L572.46,149.34 L572.74,150.97 L573.02,151.01 L573.30,150.70 L573.58,151.21 L573.86,151.02 L574.14,151.40 L574.42,149.64 L574.70,150.66 L574.98,149.72 L575.26,151.42 L575.54,150.36 L575.82,148.98 L576.10,150.32 L576.38,149.25 L576.66,151.14 L576.94,149.87 L577.22,148.13 L577.50,149.86 L577.78,151.23 L578.06,150.59 L578.34,149.69 L578.62,150.93 L578.90,150.89 L579.18,151.76 L579.46,151.24 L579.74,150.75 L580.02,149.68 L580.30,150.72 L580.58,150.76 L580.86,150.50 L581.14,150.91 L581.42,149.41 L581.70,151.10 L581.98,150.59 L582.26,150.94 L582.54,150.53 L582.82,150.36 L583.10,150.91 L583.38,151.43 L583.66,150.40 L583.94,151.04 L584.22,150.03 L584.50,151.17 L584.78,150.81 L585.06,149.60 L585.34,151.94 L585.62,150.02 L585.90,150.96 L586.18,149.66 L586.46,149.28 L586.74,151.57 L587.02,149.64 L587.30,149.03 L587.58,150.81 L587.86,149.57 L588.14,150.86 L588.42,152.81 L588.70,150.73 L588.98,151.46 L589.26,151.67 L589.54,151.40 L589.82,151.07 L590.10,152.63 L590.38,151.15 L590.66,151.59 L590.94,151.38 L591.22,150.08 L591.50,151.62 L591.78,151.39 L592.06,151.97 L592.34,152.04 L592.62,152.88 L592.90,149.63 L593.18,150.92 L593.46,151.02 L593.74,150.68 L594.02,151.90 L594.30,151.46 L594.58,151.69 L594.86,150.04 L595.14,150.70 L595.42,151.56 L595.70,151.22 L595.98,151.09 L596.26,151.58 L596.54,151.45 L596.82,150.73 L597.10,153.32 L597.38,151.13 L597.66,152.41 L597.94,152.38 L598.22,152.75 L598.50,151.32 L598.78,150.94 L599.06,152.32 L599.34,152.17 L599.62,149.73 L599.90,149.50 L600.18,151.48 L600.46,151.64 L600.74,151.78 L601.02,152.44 L601.30,151.16 L601.58,154.57 L601.86,152.97 L602.14,153.36 L602.42,152.42 L602.70,150.23 L602.98,152.43 L603.26,151.71 L603.54,152.66 L603.82,152.16 L604.10,152.92 L604.38,151.49 L604.66,151.99 L604.94,152.36 L605.22,151.67 L605.50,151.97 L605.78,153.00 L606.06,154.26 L606.34,152.27 L606.62,153.26 L606.90,151.44 L607.18,152.10 L607.46,152.86 L607.74,153.12 L608.02,151.63 L608.30,153.17 L608.58,152.76 L608.86,153.86 L609.14,153.52 L609.42,153.17 L609.70,152.29 L609.98,152.92 L610.26,151.88 L610.54,151.92 L610.82,150.98 L611.10,151.50 L611.38,151.54 L611.66,152.65 L611.94,152.85 L612.22,151.51 L612.50,152.69 L612.78,153.17 L613.06,153.67 L613.34,152.72 L613.62,153.03 L613.90,152.48 L614.18,153.71 L614.46,151.39 L614.74,153.09 L615.02,150.71 L615.30,154.50 L615.58,153.77 L615.86,150.94 L616.14,152.43 L616.42,151.61 L616.70,151.29 L616.98,152.57 L617.26,152.14 L617.54,153.96 L617.82,152.50 L618.10,151.97 L618.38,152.94 L618.66,153.41 L618.94,153.81 L619.22,153.52 L619.50,151.66 L619.78,152.30 L620.06,152.91 L620.34,152.31 L620.62,153.80 L620.90,152.80 L621.18,153.06 L621.46,152.79 L621.74,153.19 L622.02,151.75 L622.30,155.14 L622.58,152.65 L622.86,152.51 L623.14,151.54 L623.42,153.13 L623.70,151.94 L623.98,153.54 L624.26,154.37 L624.54,153.83 L624.82,152.86 L625.10,154.47 L625.38,153.12 L625.66,153.26 L625.94,153.38 L626.22,152.88 L626.50,153.73 L626.78,152.20 L627.06,151.70 L627.34,154.50 L627.62,152.70 L627.90,153.07 L628.18,153.72 L628.46,152.98 L628.74,152.33 L629.02,153.26 L629.30,152.57 L629.58,153.98 L629.86,153.06 L630.14,153.24 L630.42,154.21 L630.70,152.05 L630.98,152.11 L631.26,154.19 L631.54,154.70 L631.82,153.61 L632.10,152.87 L632.38,154.68 L632.66,154.03 L632.94,154.51 L633.22,151.86 L633.50,153.44 L633.78,152.60 L634.06,152.55 L634.34,154.12 L634.62,154.27 L634.90,153.15 L635.18,153.36 L635.46,154.89 L635.74,154.22 L636.02,153.50 L636.30,154.10 L636.58,153.73 L636.86,152.46 L637.14,153.16 L637.42,153.91 L637.70,154.23 L637.98,152.54 L638.26,152.91 L638.54,153.12 L638.82,152.26 L639.10,154.71 L639.38,154.12 L639.66,154.92 L639.94,151.66 L640.22,152.95 L640.50,155.41 L640.78,152.41 L641.06,152.02 L641.34,153.94 L641.62,155.21 L641.90,154.35 L642.18,152.86 L642.46,154.28 L642.74,154.15 L643.02,154.02 L643.30,154.14 L643.58,154.56 L643.86,154.88 L644.14,155.08 L644.42,154.80 L644.70,153.67 L644.98,152.09 L645.26,154.33 L645.54,152.43 L645.82,155.97 L646.10,152.76 L646.38,152.12 L646.66,152.13 L646.94,154.23 L647.22,154.15 L647.50,154.48 L647.78,154.15 L648.06,153.17 L648.34,154.72 L648.62,153.37 L648.90,152.68 L649.18,154.99 L649.46,154.70 L649.74,153.39 L650.02,154.09 L650.30,155.35 L650.58,155.33 L650.86,153.51 L651.14,155.61 L651.42,152.21 L651.70,154.78 L651.98,155.12 L652.26,154.71 L652.54,154.99 L652.82,153.44 L653.10,154.89 L653.38,155.56 L653.66,154.30 L653.94,155.38 L654.22,155.17 L654.50,153.30 L654.78,154.92 L655.06,156.11 L655.34,154.18 L655.62,155.74 L655.90,156.11 L656.18,154.68 L656.46,155.72 L656.74,156.87 L657.02,156.79 L657.30,155.26 L657.58,157.22 L657.86,156.67 L658.14,156.47 L658.42,157.71 L658.70,156.92 L658.98,156.52 L659.26,157.01 L659.54,156.67 L659.82,157.18 L660.10,155.82 L660.38,154.20 L660.66,157.26 L660.94,156.50 L661.22,156.18 L661.50,155.66 L661.78,155.48 L662.06,155.59 L662.34,154.55 L662.62,156.10 L662.90,155.39 L663.18,154.33 L663.46,155.37 L663.74,154.72 L664.02,154.90 L664.30,155.33 L664.58,157.20 L664.86,153.62 L665.14,154.91 L665.42,155.09 L665.70,154.72 L665.98,155.62 L666.26,153.72 L666.54,153.71 L666.82,153.91 L667.10,152.53" stroke="#9a9ae0" stroke-width="2.0" stroke-opacity="0.3"/>
<path d="M426.30,204.51 L426.58,207.64 L426.86,210.49 L427.14,211.23 L427.42,210.47 L427.70,207.78 L427.98,208.62 L428.26,207.35 L428.54,204.90 L428.82,207.12 L429.10,210.68 L429.38,209.14 L429.66,207.93 L429.94,206.33 L430.22,208.77 L430.50,207.77 L430.78,209.36 L431.06,210.56 L431.34,204.30 L431.62,209.51 L431.90,206.52 L432.18,207.89 L432.46,207.35 L432.74,212.82 L433.02,211.96 L433.30,211.72 L433.58,209.11 L433.86,207.72 L434.14,210.21 L434.42,211.64 L434.70,211.18 L434.98,212.98 L435.26,210.85 L435.54,215.60 L435.82,213.27 L436.10,216.23 L436.38,212.64 L436.66,211.76 L436.94,210.60 L437.22,214.18 L437.50,214.80 L437.78,213.07 L438.06,213.72 L438.34,212.45 L438.62,212.27 L438.90,212.66 L439.18,209.58 L439.46,211.47 L439.74,213.71 L440.02,214.01 L440.30,216.04 L440.58,215.25 L440.86,214.97 L441.14,214.35 L441.42,209.97 L441.70,214.61 L441.98,212.92 L442.26,215.71 L442.54,214.34 L442.82,214.37 L443.10,214.11 L443.38,214.71 L443.66,211.69 L443.94,212.51 L444.22,217.90 L444.50,216.57 L444.78,215.07 L445.06,215.38 L445.34,215.50 L445.62,221.13 L445.90,217.43 L446.18,216.64 L446.46,215.57 L446.74,212.68 L447.02,217.32 L447.30,219.73 L447.58,219.07 L447.86,218.03 L448.14,216.64 L448.42,215.78 L448.70,218.15 L448.98,217.45 L449.26,216.34 L449.54,221.35 L449.82,217.01 L450.10,217.85 L450.38,214.84 L450.66,222.01 L450.94,218.97 L451.22,219.27 L451.50,220.04 L451.78,218.29 L452.06,218.81 L452.34,220.51 L452.62,218.80 L452.90,220.86 L453.18,222.49 L453.46,221.89 L453.74,223.12 L454.02,222.70 L454.30,223.94 L454.58,221.72 L454.86,222.10 L455.14,219.79 L455.42,221.42 L455.70,220.70 L455.98,221.90 L456.26,220.50 L456.54,222.82 L456.82,226.57 L457.10,221.39 L457.38,223.68 L457.66,223.90 L457.94,221.92 L458.22,222.76 L458.50,222.56 L458.78,224.21 L459.06,222.69 L459.34,227.85 L459.62,225.31 L459.90,225.89 L460.18,227.56 L460.46,226.46 L460.74,224.29 L461.02,225.11 L461.30,224.72 L461.58,225.17 L461.86,226.33 L462.14,221.98 L462.42,222.56 L462.70,224.69 L462.98,225.94 L463.26,224.65 L463.54,225.19 L463.82,227.22 L464.10,226.68 L464.38,225.63 L464.66,225.40 L464.94,223.83 L465.22,226.80 L465.50,226.34 L465.78,224.90 L466.06,227.08 L466.34,225.85 L466.62,225.92 L466.90,224.06 L467.18,227.72 L467.46,225.38 L467.74,226.91 L468.02,226.83 L468.30,225.73 L468.58,226.46 L468.86,226.23 L469.14,226.23 L469.42,226.87 L469.70,225.73 L469.98,227.60 L470.26,226.83 L470.54,225.06 L470.82,227.28 L471.10,226.17 L471.38,227.40 L471.66,223.55 L471.94,227.27 L472.22,223.72 L472.50,226.22 L472.78,230.53 L473.06,227.76 L473.34,228.32 L473.62,225.94 L473.90,225.39 L474.18,226.83 L474.46,227.52 L474.74,226.86 L475.02,226.10 L475.30,225.86 L475.58,226.53 L475.86,229.27 L476.14,227.13 L476.42,226.66 L476.70,226.84 L476.98,225.93 L477.26,225.45 L477.54,227.48 L477.82,229.08 L478.10,227.99 L478.38,225.52 L478.66,229.34 L478.94,227.70 L479.22,229.84 L479.50,227.19 L479.78,225.62 L480.06,227.68 L480.34,227.19 L480.62,225.98 L480.90,226.43 L481.18,226.88 L481.46,226.27 L481.74,228.22 L482.02,227.82 L482.30,226.84 L482.58,226.97 L482.86,228.58 L483.14,227.96 L483.42,225.94 L483.70,227.79 L483.98,229.67 L484.26,227.86 L484.54,226.40 L484.82,229.42 L485.10,230.65 L485.38,227.69 L485.66,224.62 L485.94,225.68 L486.22,229.90 L486.50,227.34 L486.78,228.46 L487.06,228.27 L487.34,227.81 L487.62,229.71 L487.90,227.88 L488.18,228.39 L488.46,228.06 L488.74,227.98 L489.02,230.71 L489.30,226.31 L489.58,226.18 L489.86,229.05 L490.14,226.16 L490.42,227.97 L490.70,226.53 L490.98,229.03 L491.26,227.89 L491.54,228.79 L491.82,227.10 L492.10,227.86 L492.38,225.29 L492.66,229.13 L492.94,228.65 L493.22,228.22 L493.50,228.31 L493.78,227.83 L494.06,228.26 L494.34,230.68 L494.62,227.70 L494.90,227.89 L495.18,229.36 L495.46,228.86 L495.74,227.89 L496.02,230.65 L496.30,230.73 L496.58,228.38 L496.86,230.99 L497.14,227.20 L497.42,230.75 L497.70,227.01 L497.98,229.45 L498.26,228.87 L498.54,228.65 L498.82,229.88 L499.10,228.02 L499.38,228.33 L499.66,227.92 L499.94,231.10 L500.22,228.65 L500.50,229.83 L500.78,229.18 L501.06,230.73 L501.34,228.32 L501.62,228.56 L501.90,228.88 L502.18,229.91 L502.46,228.83 L502.74,230.32 L503.02,230.47 L503.30,231.10 L503.58,230.55 L503.86,231.61 L504.14,229.61 L504.42,229.47 L504.70,229.31 L504.98,229.35 L505.26,228.65 L505.54,230.71 L505.82,230.41 L506.10,227.89 L506.38,230.25 L506.66,229.59 L506.94,229.42 L507.22,230.20 L507.50,231.97 L507.78,230.74 L508.06,228.34 L508.34,231.04 L508.62,229.66 L508.90,232.59 L509.18,230.14 L509.46,230.63 L509.74,230.50 L510.02,229.80 L510.30,230.30 L510.58,230.65 L510.86,233.32 L511.14,230.95 L511.42,231.41 L511.70,230.97 L511.98,231.08 L512.26,231.27 L512.54,232.51 L512.82,227.91 L513.10,230.20 L513.38,229.98 L513.66,231.94 L513.94,230.06 L514.22,232.09 L514.50,232.25 L514.78,230.40 L515.06,231.68 L515.34,230.52 L515.62,232.02 L515.90,231.67 L516.18,232.46 L516.46,232.05 L516.74,230.00 L517.02,232.79 L517.30,231.21 L517.58,232.39 L517.86,231.30 L518.14,232.27 L518.42,229.91 L518.70,232.76 L518.98,230.18 L519.26,231.13 L519.54,231.85 L519.82,229.64 L520.10,231.77 L520.38,231.39 L520.66,232.28 L520.94,231.29 L521.22,230.29 L521.50,230.21 L521.78,230.52 L522.06,231.60 L522.34,231.27 L522.62,232.15 L522.90,233.19 L523.18,231.18 L523.46,231.01 L523.74,231.96 L524.02,232.04 L524.30,229.19 L524.58,230.87 L524.86,231.67 L525.14,232.26 L525.42,231.09 L525.70,230.50 L525.98,233.92 L526.26,228.73 L526.54,233.22 L526.82,230.94 L527.10,231.25 L527.38,231.67 L527.66,232.07 L527.94,230.65 L528.22,230.19 L528.50,232.07 L528.78,233.10 L529.06,231.44 L529.34,234.23 L529.62,230.38 L529.90,232.68 L530.18,232.33 L530.46,233.24 L530.74,230.61 L531.02,232.52 L531.30,231.70 L531.58,229.34 L531.86,231.35 L532.14,230.27 L532.42,231.46 L532.70,232.53 L532.98,231.77 L533.26,233.89 L533.54,232.63 L533.82,231.26 L534.10,231.55 L534.38,232.35 L534.66,231.14 L534.94,232.55 L535.22,232.60 L535.50,233.02 L535.78,232.19 L536.06,232.17 L536.34,230.78 L536.62,232.28 L536.90,231.90 L537.18,232.26 L537.46,232.52 L537.74,231.35 L538.02,231.67 L538.30,231.35 L538.58,230.87 L538.86,230.19 L539.14,231.01 L539.42,232.64 L539.70,229.67 L539.98,232.66 L540.26,232.92 L540.54,233.12 L540.82,231.80 L541.10,231.80 L541.38,233.30 L541.66,232.98 L541.94,234.00 L542.22,231.79 L542.50,231.75 L542.78,233.40 L543.06,231.83 L543.34,232.10 L543.62,233.63 L543.90,233.09 L544.18,231.84 L544.46,232.88 L544.74,232.23 L545.02,233.41 L545.30,232.66 L545.58,231.40 L545.86,234.15 L546.14,232.25 L546.42,232.39 L546.70,231.68 L546.98,232.35 L547.26,231.95 L547.54,232.95 L547.82,232.91 L548.10,233.63 L548.38,233.21 L548.66,231.86 L548.94,231.66 L549.22,231.55 L549.50,233.46 L549.78,231.60 L550.06,234.04 L550.34,232.63 L550.62,232.40 L550.90,232.64 L551.18,234.37 L551.46,232.59 L551.74,232.09 L552.02,231.37 L552.30,230.79 L552.58,231.77 L552.86,233.86 L553.14,233.14 L553.42,231.73 L553.70,229.92 L553.98,233.70 L554.26,232.91 L554.54,230.35 L554.82,232.32 L555.10,231.40 L555.38,233.63 L555.66,233.24 L555.94,231.86 L556.22,230.21 L556.50,232.26 L556.78,235.27 L557.06,233.11 L557.34,232.05 L557.62,233.60 L557.90,232.07 L558.18,234.39 L558.46,230.80 L558.74,232.18 L559.02,234.30 L559.30,233.90 L559.58,233.27 L559.86,231.13 L560.14,232.73 L560.42,233.41 L560.70,232.23 L560.98,232.73 L561.26,233.67 L561.54,232.32 L561.82,233.29 L562.10,232.45 L562.38,231.52 L562.66,231.14 L562.94,231.99 L563.22,231.80 L563.50,233.82 L563.78,232.84 L564.06,230.73 L564.34,234.35 L564.62,235.36 L564.90,232.29 L565.18,233.39 L565.46,232.67 L565.74,233.63 L566.02,232.93 L566.30,233.31 L566.58,232.81 L566.86,232.17 L567.14,232.47 L567.42,232.01 L567.70,232.15 L567.98,232.41 L568.26,235.60 L568.54,233.70 L568.82,234.88 L569.10,231.32 L569.38,232.61 L569.66,233.97 L569.94,234.27 L570.22,233.44 L570.50,232.46 L570.78,231.39 L571.06,233.19 L571.34,231.18 L571.62,233.22 L571.90,232.38 L572.18,232.23 L572.46,232.20 L572.74,231.32 L573.02,231.60 L573.30,233.32 L573.58,232.20 L573.86,232.11 L574.14,233.94 L574.42,233.60 L574.70,233.33 L574.98,231.37 L575.26,234.13 L575.54,233.61 L575.82,231.96 L576.10,232.39 L576.38,233.99 L576.66,234.33 L576.94,232.68 L577.22,231.87 L577.50,234.42 L577.78,232.62 L578.06,234.01 L578.34,233.22 L578.62,233.03 L578.90,232.75 L579.18,234.78 L579.46,232.83 L579.74,233.25 L580.02,232.56 L580.30,235.36 L580.58,233.32 L580.86,232.10 L581.14,233.17 L581.42,231.46 L581.70,233.06 L581.98,232.02 L582.26,234.61 L582.54,234.87 L582.82,235.84 L583.10,233.02 L583.38,232.47 L583.66,231.19 L583.94,233.68 L584.22,232.63 L584.50,234.85 L584.78,235.67 L585.06,231.96 L585.34,233.36 L585.62,235.32 L585.90,231.96 L586.18,232.25 L586.46,234.47 L586.74,233.95 L587.02,231.65 L587.30,234.09 L587.58,233.23 L587.86,233.63 L588.14,234.05 L588.42,235.49 L588.70,234.60 L588.98,232.66 L589.26,235.19 L589.54,234.48 L589.82,234.20 L590.10,232.99 L590.38,232.77 L590.66,233.76 L590.94,235.29 L591.22,234.25 L591.50,233.94 L591.78,234.08 L592.06,234.12 L592.34,233.47 L592.62,233.86 L592.90,231.82 L593.18,233.76 L593.46,234.80 L593.74,234.07 L594.02,235.43 L594.30,235.53 L594.58,233.54 L594.86,232.53 L595.14,233.91 L595.42,232.46 L595.70,234.79 L595.98,233.79 L596.26,234.68 L596.54,233.64 L596.82,233.16 L597.10,235.63 L597.38,233.82 L597.66,234.05 L597.94,234.17 L598.22,233.52 L598.50,233.67 L598.78,232.58 L599.06,234.02 L599.34,234.40 L599.62,233.07 L599.90,232.20 L600.18,233.51 L600.46,234.71 L600.74,234.80 L601.02,234.46 L601.30,233.19 L601.58,234.52 L601.86,233.95 L602.14,235.01 L602.42,234.67 L602.70,233.19 L602.98,234.41 L603.26,234.41 L603.54,235.34 L603.82,236.17 L604.10,232.70 L604.38,233.67 L604.66,233.68 L604.94,233.73 L605.22,233.98 L605.50,236.02 L605.78,235.03 L606.06,234.25 L606.34,234.95 L606.62,234.57 L606.90,233.87 L607.18,234.42 L607.46,234.98 L607.74,235.63 L608.02,233.40 L608.30,234.57 L608.58,234.77 L608.86,234.87 L609.14,234.10 L609.42,234.05 L609.70,232.84 L609.98,233.39 L610.26,233.78 L610.54,233.68 L610.82,234.85 L611.10,234.06 L611.38,233.94 L611.66,233.61 L611.94,234.54 L612.22,232.93 L612.50,236.07 L612.78,233.05 L613.06,233.81 L613.34,234.40 L613.62,234.39 L613.90,234.88 L614.18,232.34 L614.46,234.41 L614.74,233.16 L615.02,235.87 L615.30,232.36 L615.58,234.34 L615.86,235.07 L616.14,234.35 L616.42,234.62 L616.70,234.50 L616.98,234.89 L617.26,235.52 L617.54,234.52 L617.82,235.67 L618.10,234.51 L618.38,235.45 L618.66,233.12 L618.94,236.08 L619.22,235.02 L619.50,235.17 L619.78,236.25 L620.06,233.66 L620.34,233.44 L620.62,231.76 L620.90,235.64 L621.18,235.04 L621.46,236.66 L621.74,234.62 L622.02,234.94 L622.30,234.55 L622.58,234.77 L622.86,234.82 L623.14,233.91 L623.42,233.74 L623.70,234.12 L623.98,233.34 L624.26,235.94 L624.54,233.71 L624.82,234.25 L625.10,234.49 L625.38,233.92 L625.66,236.08 L625.94,234.92 L626.22,235.59 L626.50,233.08 L626.78,233.73 L627.06,232.22 L627.34,235.74 L627.62,233.91 L627.90,235.14 L628.18,235.77 L628.46,233.05 L628.74,235.26 L629.02,234.29 L629.30,234.87 L629.58,234.74 L629.86,235.08 L630.14,234.36 L630.42,232.94 L630.70,233.64 L630.98,234.35 L631.26,234.39 L631.54,233.41 L631.82,233.85 L632.10,234.58 L632.38,235.69 L632.66,234.53 L632.94,233.85 L633.22,234.69 L633.50,233.44 L633.78,234.94 L634.06,233.02 L634.34,235.35 L634.62,233.82 L634.90,235.83 L635.18,234.30 L635.46,234.07 L635.74,234.75 L636.02,234.22 L636.30,234.48 L636.58,236.56 L636.86,235.20 L637.14,235.16 L637.42,232.42 L637.70,235.91 L637.98,235.31 L638.26,234.45 L638.54,233.34 L638.82,233.06 L639.10,233.68 L639.38,234.52 L639.66,234.83 L639.94,234.93 L640.22,234.92 L640.50,234.70 L640.78,234.38 L641.06,233.23 L641.34,236.87 L641.62,235.63 L641.90,235.71 L642.18,234.53 L642.46,233.24 L642.74,236.27 L643.02,233.76 L643.30,233.14 L643.58,235.34 L643.86,236.20 L644.14,234.32 L644.42,234.78 L644.70,235.45 L644.98,234.91 L645.26,234.75 L645.54,235.50 L645.82,235.57 L646.10,234.12 L646.38,234.81 L646.66,235.16 L646.94,235.69 L647.22,235.06 L647.50,234.32 L647.78,234.90 L648.06,233.75 L648.34,234.65 L648.62,235.97 L648.90,234.97 L649.18,235.23 L649.46,235.46 L649.74,234.96 L650.02,233.87 L650.30,234.19 L650.58,236.11 L650.86,234.95 L651.14,233.67 L651.42,236.76 L651.70,234.70 L651.98,233.85 L652.26,237.48 L652.54,236.01 L652.82,235.44 L653.10,236.21 L653.38,236.35 L653.66,235.18 L653.94,236.82 L654.22,235.51 L654.50,235.62 L654.78,234.95 L655.06,236.86 L655.34,239.23 L655.62,235.87 L655.90,236.52 L656.18,238.16 L656.46,239.58 L656.74,237.58 L657.02,238.16 L657.30,237.53 L657.58,237.72 L657.86,239.17 L658.14,237.78 L658.42,239.40 L658.70,239.38 L658.98,238.15 L659.26,237.68 L659.54,238.65 L659.82,237.44 L660.10,237.74 L660.38,238.48 L660.66,238.54 L660.94,238.11 L661.22,235.98 L661.50,237.47 L661.78,238.32 L662.06,238.78 L662.34,238.36 L662.62,235.20 L662.90,236.08 L663.18,236.49 L663.46,235.69 L663.74,234.85 L664.02,235.30 L664.30,236.98 L664.58,235.95 L664.86,236.48 L665.14,236.30 L665.42,237.79 L665.70,235.74 L665.98,236.62 L666.26,234.96 L666.54,235.18 L666.82,233.36 L667.10,234.16" stroke="#80ee80" stroke-width="2.0" stroke-opacity="0.35"/>
<path d="M426.30,41.95 L426.58,47.36 L426.86,37.75 L427.14,46.57 L427.42,41.19 L427.70,41.39 L427.98,51.11 L428.26,43.65 L428.54,42.97 L428.82,46.53 L429.10,48.44 L429.38,43.65 L429.66,46.50 L429.94,40.05 L430.22,42.84 L430.50,42.75 L430.78,39.22 L431.06,38.71 L431.34,38.45 L431.62,44.43 L431.90,44.91 L432.18,44.52 L432.46,46.32 L432.74,40.82 L433.02,46.12 L433.30,47.61 L433.58,49.86 L433.86,43.69 L434.14,45.68 L434.42,39.51 L434.70,45.69 L434.98,39.28 L435.26,42.56 L435.54,52.56 L435.82,40.00 L436.10,51.78 L436.38,50.17 L436.66,47.93 L436.94,51.07 L437.22,51.53 L437.50,53.68 L437.78,49.09 L438.06,47.96 L438.34,48.13 L438.62,46.93 L438.90,50.62 L439.18,48.11 L439.46,55.09 L439.74,44.62 L440.02,47.66 L440.30,48.39 L440.58,44.52 L440.86,59.02 L441.14,43.88 L441.42,51.64 L441.70,51.00 L441.98,58.87 L442.26,46.32 L442.54,57.20 L442.82,51.14 L443.10,53.34 L443.38,51.77 L443.66,56.48 L443.94,50.61 L444.22,54.43 L444.50,56.10 L444.78,61.31 L445.06,47.22 L445.34,60.56 L445.62,58.78 L445.90,54.18 L446.18,56.95 L446.46,54.57 L446.74,61.66 L447.02,57.10 L447.30,55.87 L447.58,55.99 L447.86,56.24 L448.14,56.48 L448.42,54.38 L448.70,63.93 L448.98,51.43 L449.26,49.42 L449.54,57.43 L449.82,57.51 L450.10,59.28 L450.38,57.63 L450.66,57.95 L450.94,59.59 L451.22,61.69 L451.50,57.46 L451.78,57.84 L452.06,65.05 L452.34,60.87 L452.62,56.39 L452.90,66.54 L453.18,61.98 L453.46,57.99 L453.74,56.35 L454.02,60.87 L454.30,57.61 L454.58,57.05 L454.86,56.44 L455.14,58.83 L455.42,63.58 L455.70,59.06 L455.98,56.09 L456.26,62.23 L456.54,60.43 L456.82,62.60 L457.10,63.53 L457.38,59.47 L457.66,59.39 L457.94,59.48 L458.22,56.17 L458.50,61.02 L458.78,62.70 L459.06,58.99 L459.34,57.49 L459.62,57.10 L459.90,55.34 L460.18,55.05 L460.46,56.04 L460.74,54.83 L461.02,56.10 L461.30,53.27 L461.58,58.97 L461.86,58.65 L462.14,55.93 L462.42,53.39 L462.70,60.15 L462.98,63.68 L463.26,59.23 L463.54,60.37 L463.82,60.56 L464.10,64.20 L464.38,60.39 L464.66,65.75 L464.94,62.64 L465.22,66.12 L465.50,63.99 L465.78,63.50 L466.06,60.44 L466.34,62.68 L466.62,63.95 L466.90,66.49 L467.18,65.56 L467.46,63.27 L467.74,66.24 L468.02,67.84 L468.30,65.05 L468.58,64.43 L468.86,64.66 L469.14,67.82 L469.42,67.22 L469.70,63.62 L469.98,67.00 L470.26,64.95 L470.54,64.36 L470.82,69.42 L471.10,68.46 L471.38,64.70 L471.66,66.78 L471.94,67.91 L472.22,65.17 L472.50,66.53 L472.78,68.54 L473.06,62.60 L473.34,67.85 L473.62,68.92 L473.90,68.42 L474.18,64.02 L474.46,68.10 L474.74,65.32 L475.02,68.83 L475.30,68.93 L475.58,68.02 L475.86,65.69 L476.14,66.12 L476.42,69.57 L476.70,65.42 L476.98,68.73 L477.26,68.77 L477.54,66.91 L477.82,73.20 L478.10,67.74 L478.38,72.59 L478.66,62.86 L478.94,62.33 L479.22,69.83 L479.50,69.01 L479.78,66.79 L480.06,67.36 L480.34,63.07 L480.62,65.98 L480.90,65.02 L481.18,66.84 L481.46,69.32 L481.74,67.36 L482.02,68.02 L482.30,65.51 L482.58,66.03 L482.86,67.17 L483.14,66.17 L483.42,69.53 L483.70,64.57 L483.98,70.63 L484.26,64.01 L484.54,68.37 L484.82,64.05 L485.10,69.19 L485.38,65.53 L485.66,65.78 L485.94,66.17 L486.22,62.70 L486.50,61.33 L486.78,58.64 L487.06,65.21 L487.34,60.36 L487.62,59.89 L487.90,60.38 L488.18,64.01 L488.46,55.12 L488.74,58.67 L489.02,56.57 L489.30,58.01 L489.58,52.56 L489.86,55.39 L490.14,58.09 L490.42,59.88 L490.70,60.40 L490.98,55.75 L491.26,58.44 L491.54,58.90 L491.82,57.02 L492.10,57.71 L492.38,63.18 L492.66,62.83 L492.94,62.69 L493.22,66.20 L493.50,62.07 L493.78,65.82 L494.06,65.19 L494.34,65.46 L494.62,66.99 L494.90,66.67 L495.18,67.16 L495.46,67.43 L495.74,71.17 L496.02,66.70 L496.30,69.66 L496.58,69.00 L496.86,67.18 L497.14,69.71 L497.42,66.43 L497.70,70.74 L497.98,66.78 L498.26,67.56 L498.54,69.34 L498.82,70.48 L499.10,70.72 L499.38,70.78 L499.66,68.60 L499.94,67.14 L500.22,70.29 L500.50,69.85 L500.78,67.35 L501.06,71.33 L501.34,69.81 L501.62,67.52 L501.90,70.40 L502.18,66.87 L502.46,67.83 L502.74,70.46 L503.02,66.55 L503.30,69.80 L503.58,67.05 L503.86,71.29 L504.14,68.38 L504.42,70.24 L504.70,66.90 L504.98,69.25 L505.26,71.90 L505.54,70.98 L505.82,66.47 L506.10,72.03 L506.38,72.03 L506.66,69.57 L506.94,73.19 L507.22,68.34 L507.50,70.33 L507.78,72.76 L508.06,73.20 L508.34,73.19 L508.62,68.57 L508.90,67.28 L509.18,71.61 L509.46,68.08 L509.74,70.69 L510.02,68.49 L510.30,73.14 L510.58,72.69 L510.86,72.26 L511.14,71.26 L511.42,71.37 L511.70,70.75 L511.98,72.13 L512.26,71.92 L512.54,72.38 L512.82,70.71 L513.10,75.27 L513.38,72.19 L513.66,74.39 L513.94,74.32 L514.22,70.10 L514.50,68.60 L514.78,74.32 L515.06,71.21 L515.34,72.16 L515.62,71.56 L515.90,72.35 L516.18,69.87 L516.46,72.01 L516.74,71.37 L517.02,72.28 L517.30,67.89 L517.58,73.97 L517.86,73.09 L518.14,69.21 L518.42,71.16 L518.70,72.66 L518.98,73.85 L519.26,72.70 L519.54,75.38 L519.82,72.84 L520.10,70.95 L520.38,71.60 L520.66,74.33 L520.94,71.80 L521.22,74.58 L521.50,74.96 L521.78,74.18 L522.06,75.02 L522.34,72.81 L522.62,73.16 L522.90,72.10 L523.18,72.11 L523.46,70.35 L523.74,72.28 L524.02,71.36 L524.30,70.73 L524.58,73.71 L524.86,74.32 L525.14,72.87 L525.42,76.10 L525.70,75.34 L525.98,75.57 L526.26,72.53 L526.54,70.91 L526.82,74.76 L527.10,74.33 L527.38,75.15 L527.66,74.61 L527.94,76.21 L528.22,73.37 L528.50,75.18 L528.78,72.32 L529.06,69.74 L529.34,73.23 L529.62,76.86 L529.90,71.03 L530.18,76.03 L530.46,72.94 L530.74,73.49 L531.02,74.35 L531.30,74.69 L531.58,72.54 L531.86,74.60 L532.14,75.22 L532.42,75.98 L532.70,73.09 L532.98,77.36 L533.26,78.05 L533.54,79.01 L533.82,72.17 L534.10,74.97 L534.38,71.29 L534.66,75.42 L534.94,75.78 L535.22,72.70 L535.50,71.94 L535.78,75.21 L536.06,76.05 L536.34,73.49 L536.62,74.50 L536.90,70.41 L537.18,73.76 L537.46,75.35 L537.74,75.39 L538.02,78.03 L538.30,73.11 L538.58,71.13 L538.86,76.08 L539.14,74.22 L539.42,75.85 L539.70,76.66 L539.98,76.48 L540.26,78.02 L540.54,77.87 L540.82,72.43 L541.10,75.34 L541.38,79.08 L541.66,74.75 L541.94,77.24 L542.22,75.41 L542.50,74.77 L542.78,78.39 L543.06,77.43 L543.34,75.13 L543.62,77.21 L543.90,73.23 L544.18,74.30 L544.46,77.24 L544.74,75.70 L545.02,73.74 L545.30,76.47 L545.58,76.26 L545.86,77.99 L546.14,77.42 L546.42,75.22 L546.70,74.86 L546.98,75.49 L547.26,75.34 L547.54,78.38 L547.82,78.62 L548.10,78.22 L548.38,76.49 L548.66,75.38 L548.94,77.45 L549.22,75.23 L549.50,76.28 L549.78,72.90 L550.06,75.13 L550.34,78.47 L550.62,74.09 L550.90,73.27 L551.18,75.65 L551.46,78.92 L551.74,78.55 L552.02,75.34 L552.30,75.14 L552.58,75.81 L552.86,74.36 L553.14,76.09 L553.42,75.51 L553.70,73.44 L553.98,75.04 L554.26,75.63 L554.54,74.57 L554.82,74.12 L555.10,77.72 L555.38,79.49 L555.66,75.64 L555.94,75.40 L556.22,77.06 L556.50,75.78 L556.78,74.81 L557.06,78.66 L557.34,74.38 L557.62,74.94 L557.90,75.07 L558.18,74.69 L558.46,75.84 L558.74,77.29 L559.02,78.83 L559.30,77.47 L559.58,76.37 L559.86,74.12 L560.14,76.22 L560.42,74.66 L560.70,76.15 L560.98,78.04 L561.26,76.67 L561.54,75.94 L561.82,74.98 L562.10,76.26 L562.38,76.49 L562.66,74.66 L562.94,75.40 L563.22,77.83 L563.50,73.36 L563.78,75.50 L564.06,74.22 L564.34,78.98 L564.62,77.32 L564.90,77.16 L565.18,76.95 L565.46,76.75 L565.74,76.75 L566.02,73.45 L566.30,76.68 L566.58,77.26 L566.86,73.71 L567.14,77.65 L567.42,77.36 L567.70,73.52 L567.98,75.35 L568.26,75.63 L568.54,75.24 L568.82,76.83 L569.10,73.91 L569.38,75.74 L569.66,76.51 L569.94,77.37 L570.22,76.18 L570.50,75.66 L570.78,77.27 L571.06,72.58 L571.34,77.66 L571.62,75.48 L571.90,73.82 L572.18,75.23 L572.46,72.77 L572.74,72.38 L573.02,75.35 L573.30,74.54 L573.58,77.15 L573.86,74.30 L574.14,73.56 L574.42,74.12 L574.70,78.74 L574.98,75.77 L575.26,74.62 L575.54,73.92 L575.82,73.69 L576.10,75.27 L576.38,76.26 L576.66,77.46 L576.94,77.40 L577.22,75.82 L577.50,74.14 L577.78,73.72 L578.06,71.12 L578.34,73.29 L578.62,75.70 L578.90,74.28 L579.18,75.40 L579.46,72.31 L579.74,76.09 L580.02,74.91 L580.30,74.34 L580.58,74.82 L580.86,70.09 L581.14,72.83 L581.42,72.06 L581.70,76.56 L581.98,72.88 L582.26,72.10 L582.54,74.21 L582.82,70.66 L583.10,74.69 L583.38,70.75 L583.66,71.61 L583.94,69.89 L584.22,72.65 L584.50,67.30 L584.78,72.11 L585.06,69.39 L585.34,70.85 L585.62,68.78 L585.90,71.23 L586.18,71.29 L586.46,72.15 L586.74,71.89 L587.02,72.67 L587.30,73.58 L587.58,71.47 L587.86,70.39 L588.14,70.50 L588.42,74.17 L588.70,72.61 L588.98,75.34 L589.26,73.84 L589.54,72.24 L589.82,75.77 L590.10,77.76 L590.38,74.28 L590.66,73.15 L590.94,73.47 L591.22,76.61 L591.50,74.21 L591.78,74.64 L592.06,76.64 L592.34,75.59 L592.62,75.88 L592.90,74.84 L593.18,74.76 L593.46,76.23 L593.74,76.30 L594.02,77.12 L594.30,75.31 L594.58,76.84 L594.86,77.12 L595.14,76.51 L595.42,77.40 L595.70,78.21 L595.98,76.86 L596.26,76.71 L596.54,74.95 L596.82,77.23 L597.10,76.54 L597.38,76.21 L597.66,75.36 L597.94,77.81 L598.22,81.26 L598.50,77.64 L598.78,77.08 L599.06,77.71 L599.34,75.97 L599.62,77.19 L599.90,75.91 L600.18,75.98 L600.46,77.51 L600.74,77.53 L601.02,76.97 L601.30,75.83 L601.58,77.67 L601.86,75.37 L602.14,78.59 L602.42,76.70 L602.70,77.32 L602.98,78.69 L603.26,78.32 L603.54,75.16 L603.82,76.98 L604.10,78.06 L604.38,75.58 L604.66,73.34 L604.94,77.37 L605.22,77.43 L605.50,78.27 L605.78,77.69 L606.06,77.80 L606.34,78.00 L606.62,79.97 L606.90,78.46 L607.18,78.58 L607.46,77.00 L607.74,79.62 L608.02,77.39 L608.30,78.99 L608.58,74.13 L608.86,78.18 L609.14,77.61 L609.42,77.01 L609.70,80.02 L609.98,78.53 L610.26,77.61 L610.54,76.97 L610.82,81.10 L611.10,79.18 L611.38,79.04 L611.66,76.63 L611.94,80.19 L612.22,78.93 L612.50,77.53 L612.78,77.82 L613.06,75.24 L613.34,79.15 L613.62,76.18 L613.90,79.51 L614.18,77.33 L614.46,77.04 L614.74,78.75 L615.02,78.49 L615.30,76.22 L615.58,78.04 L615.86,79.22 L616.14,77.77 L616.42,75.92 L616.70,77.81 L616.98,76.60 L617.26,77.27 L617.54,78.36 L617.82,78.20 L618.10,77.95 L618.38,75.50 L618.66,78.93 L618.94,78.01 L619.22,77.67 L619.50,78.65 L619.78,81.69 L620.06,76.22 L620.34,75.69 L620.62,79.75 L620.90,77.12 L621.18,80.69 L621.46,76.81 L621.74,77.68 L622.02,79.94 L622.30,80.09 L622.58,79.31 L622.86,79.34 L623.14,78.36 L623.42,77.85 L623.70,78.26 L623.98,80.79 L624.26,79.85 L624.54,78.69 L624.82,79.21 L625.10,80.10 L625.38,80.71 L625.66,78.49 L625.94,78.60 L626.22,79.31 L626.50,83.19 L626.78,79.19 L627.06,80.95 L627.34,76.20 L627.62,80.26 L627.90,76.45 L628.18,77.01 L628.46,77.79 L628.74,78.64 L629.02,79.20 L629.30,79.53 L629.58,79.30 L629.86,78.19 L630.14,83.35 L630.42,79.63 L630.70,80.11 L630.98,82.43 L631.26,80.65 L631.54,80.01 L631.82,79.59 L632.10,82.22 L632.38,77.24 L632.66,77.46 L632.94,79.34 L633.22,75.66 L633.50,77.81 L633.78,81.05 L634.06,78.38 L634.34,79.45 L634.62,80.36 L634.90,77.23 L635.18,79.67 L635.46,78.16 L635.74,77.39 L636.02,78.79 L636.30,79.18 L636.58,78.61 L636.86,78.18 L637.14,80.93 L637.42,81.28 L637.70,80.28 L637.98,79.19 L638.26,77.59 L638.54,78.00 L638.82,77.53 L639.10,79.77 L639.38,80.97 L639.66,80.99 L639.94,79.42 L640.22,78.82 L640.50,79.78 L640.78,79.70 L641.06,80.51 L641.34,82.00 L641.62,78.37 L641.90,83.07 L642.18,75.99 L642.46,76.54 L642.74,77.00 L643.02,77.84 L643.30,79.19 L643.58,83.08 L643.86,78.42 L644.14,81.48 L644.42,79.01 L644.70,79.89 L644.98,77.92 L645.26,83.49 L645.54,79.60 L645.82,78.64 L646.10,83.53 L646.38,80.00 L646.66,80.41 L646.94,79.47 L647.22,78.32 L647.50,77.32 L647.78,79.45 L648.06,82.49 L648.34,80.48 L648.62,79.48 L648.90,81.58 L649.18,78.22 L649.46,82.13 L649.74,79.79 L650.02,78.43 L650.30,80.98 L650.58,80.72 L650.86,79.28 L651.14,80.23 L651.42,81.53 L651.70,82.26 L651.98,78.47 L652.26,75.48 L652.54,83.38 L652.82,79.49 L653.10,79.24 L653.38,80.68 L653.66,79.24 L653.94,81.73 L654.22,77.88 L654.50,79.65 L654.78,77.88 L655.06,82.59 L655.34,79.61 L655.62,81.89 L655.90,82.39 L656.18,78.04 L656.46,79.69 L656.74,81.29 L657.02,80.17 L657.30,79.87 L657.58,81.52 L657.86,81.66 L658.14,79.12 L658.42,79.91 L658.70,81.24 L658.98,80.51 L659.26,80.40 L659.54,78.28 L659.82,83.15 L660.10,79.81 L660.38,80.66 L660.66,80.16 L660.94,80.34 L661.22,80.49 L661.50,78.84 L661.78,80.89 L662.06,82.30 L662.34,80.95 L662.62,81.51 L662.90,81.12 L663.18,80.36 L663.46,83.38 L663.74,79.18 L664.02,80.99 L664.30,82.08 L664.58,80.85 L664.86,78.59 L665.14,78.54 L665.42,83.03 L665.70,78.78 L665.98,80.42 L666.26,81.34 L666.54,80.59 L666.82,77.44 L667.10,77.24" stroke="#ee5858" stroke-width="0.5" stroke-opacity="0.8"/>
<path d="M426.30,123.54 L426.58,123.74 L426.86,126.75 L427.14,122.26 L427.42,125.77 L427.70,122.63 L427.98,127.99 L428.26,126.75 L428.54,128.67 L428.82,125.96 L429.10,127.48 L429.38,126.59 L429.66,126.05 L429.94,127.54 L430.22,125.57 L430.50,127.08 L430.78,128.80 L431.06,127.99 L431.34,127.44 L431.62,131.44 L431.90,128.43 L432.18,127.63 L432.46,128.88 L432.74,128.03 L433.02,128.38 L433.30,128.58 L433.58,132.16 L433.86,129.41 L434.14,129.78 L434.42,130.64 L434.70,132.70 L434.98,129.65 L435.26,129.23 L435.54,133.76 L435.82,128.34 L436.10,130.03 L436.38,131.63 L436.66,134.03 L436.94,129.66 L437.22,127.76 L437.50,132.19 L437.78,130.70 L438.06,131.03 L438.34,132.34 L438.62,132.16 L438.90,132.40 L439.18,131.56 L439.46,134.04 L439.74,134.48 L440.02,132.63 L440.30,132.12 L440.58,133.86 L440.86,133.66 L441.14,131.77 L441.42,132.70 L441.70,134.85 L441.98,133.47 L442.26,133.31 L442.54,134.17 L442.82,133.99 L443.10,134.18 L443.38,131.80 L443.66,136.75 L443.94,134.88 L444.22,133.62 L444.50,136.18 L444.78,135.45 L445.06,135.21 L445.34,136.64 L445.62,138.30 L445.90,136.22 L446.18,137.64 L446.46,138.47 L446.74,134.54 L447.02,135.28 L447.30,137.03 L447.58,134.00 L447.86,135.93 L448.14,138.00 L448.42,137.79 L448.70,137.31 L448.98,134.33 L449.26,139.73 L449.54,137.60 L449.82,137.97 L450.10,137.74 L450.38,135.12 L450.66,135.58 L450.94,135.96 L451.22,139.91 L451.50,136.65 L451.78,137.48 L452.06,137.57 L452.34,138.68 L452.62,138.70 L452.90,138.53 L453.18,136.79 L453.46,135.28 L453.74,138.73 L454.02,138.95 L454.30,140.22 L454.58,138.72 L454.86,138.23 L455.14,139.55 L455.42,137.32 L455.70,138.04 L455.98,138.19 L456.26,139.83 L456.54,142.07 L456.82,140.61 L457.10,141.16 L457.38,140.20 L457.66,140.35 L457.94,139.61 L458.22,139.91 L458.50,137.51 L458.78,139.05 L459.06,139.07 L459.34,141.64 L459.62,141.54 L459.90,142.20 L460.18,142.77 L460.46,140.69 L460.74,142.34 L461.02,143.45 L461.30,141.27 L461.58,142.60 L461.86,141.24 L462.14,139.67 L462.42,141.72 L462.70,140.73 L462.98,141.86 L463.26,141.29 L463.54,142.25 L463.82,139.55 L464.10,144.40 L464.38,143.65 L464.66,141.80 L464.94,141.25 L465.22,142.35 L465.50,143.18 L465.78,142.97 L466.06,143.02 L466.34,140.45 L466.62,141.46 L466.90,144.30 L467.18,143.14 L467.46,141.26 L467.74,142.06 L468.02,141.50 L468.30,142.04 L468.58,144.55 L468.86,143.08 L469.14,144.64 L469.42,143.68 L469.70,141.87 L469.98,142.90 L470.26,146.23 L470.54,142.91 L470.82,142.67 L471.10,145.28 L471.38,144.08 L471.66,144.04 L471.94,145.75 L472.22,142.24 L472.50,144.72 L472.78,143.17 L473.06,142.85 L473.34,143.57 L473.62,145.81 L473.90,144.45 L474.18,142.66 L474.46,143.52 L474.74,146.48 L475.02,146.00 L475.30,143.74 L475.58,147.66 L475.86,144.66 L476.14,143.79 L476.42,144.95 L476.70,146.12 L476.98,146.86 L477.26,146.22 L477.54,144.63 L477.82,144.48 L478.10,143.51 L478.38,145.00 L478.66,144.43 L478.94,145.33 L479.22,143.68 L479.50,144.48 L479.78,144.07 L480.06,143.70 L480.34,143.70 L480.62,143.85 L480.90,143.65 L481.18,145.50 L481.46,144.96 L481.74,143.40 L482.02,145.32 L482.30,145.03 L482.58,146.24 L482.86,144.41 L483.14,144.34 L483.42,143.76 L483.70,144.57 L483.98,144.89 L484.26,144.48 L484.54,143.96 L484.82,144.76 L485.10,144.18 L485.38,144.28 L485.66,142.97 L485.94,144.13 L486.22,142.81 L486.50,142.94 L486.78,143.98 L487.06,146.03 L487.34,144.86 L487.62,143.84 L487.90,143.69 L488.18,144.97 L488.46,145.45 L488.74,145.36 L489.02,143.97 L489.30,144.46 L489.58,144.02 L489.86,144.18 L490.14,143.70 L490.42,144.46 L490.70,142.59 L490.98,143.71 L491.26,145.53 L491.54,144.23 L491.82,145.88 L492.10,144.07 L492.38,145.15 L492.66,146.05 L492.94,144.65 L493.22,145.08 L493.50,148.49 L493.78,145.29 L494.06,145.35 L494.34,145.57 L494.62,146.28 L494.90,146.29 L495.18,147.41 L495.46,147.28 L495.74,146.11 L496.02,146.22 L496.30,145.19 L496.58,145.17 L496.86,146.01 L497.14,147.59 L497.42,147.02 L497.70,147.78 L497.98,147.97 L498.26,146.88 L498.54,149.27 L498.82,146.62 L499.10,146.56 L499.38,146.81 L499.66,148.47 L499.94,147.21 L500.22,146.64 L500.50,147.89 L500.78,148.65 L501.06,147.42 L501.34,147.32 L501.62,148.73 L501.90,148.67 L502.18,148.67 L502.46,146.97 L502.74,148.08 L503.02,148.20 L503.30,146.04 L503.58,149.14 L503.86,148.05 L504.14,147.64 L504.42,150.34 L504.70,148.22 L504.98,147.38 L505.26,148.07 L505.54,148.73 L505.82,149.01 L506.10,148.15 L506.38,147.35 L506.66,147.55 L506.94,147.45 L507.22,147.23 L507.50,148.30 L507.78,147.85 L508.06,148.42 L508.34,147.55 L508.62,147.53 L508.90,148.24 L509.18,148.10 L509.46,149.64 L509.74,147.58 L510.02,148.73 L510.30,148.50 L510.58,147.24 L510.86,149.32 L511.14,148.77 L511.42,146.51 L511.70,149.25 L511.98,149.61 L512.26,147.89 L512.54,150.41 L512.82,148.88 L513.10,147.59 L513.38,149.33 L513.66,148.43 L513.94,147.47 L514.22,146.68 L514.50,149.10 L514.78,148.13 L515.06,149.54 L515.34,149.30 L515.62,148.41 L515.90,148.42 L516.18,150.74 L516.46,150.70 L516.74,149.76 L517.02,148.68 L517.30,148.07 L517.58,148.69 L517.86,150.75 L518.14,149.57 L518.42,148.84 L518.70,147.93 L518.98,149.34 L519.26,148.31 L519.54,149.22 L519.82,149.97 L520.10,150.32 L520.38,149.41 L520.66,148.95 L520.94,149.54 L521.22,151.12 L521.50,149.72 L521.78,147.98 L522.06,150.93 L522.34,149.66 L522.62,151.97 L522.90,148.98 L523.18,149.38 L523.46,149.19 L523.74,149.88 L524.02,148.95 L524.30,148.08 L524.58,147.66 L524.86,149.46 L525.14,149.10 L525.42,149.05 L525.70,151.74 L525.98,150.45 L526.26,150.76 L526.54,149.21 L526.82,150.02 L527.10,149.54 L527.38,149.56 L527.66,150.52 L527.94,150.40 L528.22,150.12 L528.50,149.99 L528.78,148.44 L529.06,149.15 L529.34,150.28 L529.62,149.56 L529.90,149.17 L530.18,150.31 L530.46,149.07 L530.74,149.34 L531.02,150.89 L531.30,149.68 L531.58,151.46 L531.86,150.59 L532.14,150.89 L532.42,151.23 L532.70,148.01 L532.98,150.07 L533.26,148.90 L533.54,149.74 L533.82,150.11 L534.10,151.45 L534.38,150.21 L534.66,151.88 L534.94,149.77 L535.22,150.25 L535.50,150.42 L535.78,151.27 L536.06,150.32 L536.34,149.78 L536.62,150.08 L536.90,149.05 L537.18,151.68 L537.46,151.19 L537.74,150.90 L538.02,150.77 L538.30,149.93 L538.58,150.14 L538.86,151.35 L539.14,149.81 L539.42,149.83 L539.70,152.16 L539.98,152.16 L540.26,150.94 L540.54,151.19 L540.82,150.88 L541.10,152.10 L541.38,150.30 L541.66,150.83 L541.94,151.24 L542.22,152.19 L542.50,150.57 L542.78,151.06 L543.06,150.37 L543.34,150.23 L543.62,150.25 L543.90,150.99 L544.18,151.79 L544.46,150.27 L544.74,150.38 L545.02,150.59 L545.30,151.32 L545.58,151.65 L545.86,149.75 L546.14,151.30 L546.42,149.98 L546.70,151.63 L546.98,150.00 L547.26,149.88 L547.54,150.23 L547.82,150.85 L548.10,149.94 L548.38,151.10 L548.66,151.03 L548.94,150.97 L549.22,151.14 L549.50,151.72 L549.78,150.16 L550.06,150.86 L550.34,150.82 L550.62,148.86 L550.90,151.21 L551.18,150.09 L551.46,150.13 L551.74,150.39 L552.02,150.90 L552.30,151.12 L552.58,151.26 L552.86,150.12 L553.14,151.45 L553.42,151.18 L553.70,150.39 L553.98,150.74 L554.26,151.53 L554.54,151.16 L554.82,151.41 L555.10,150.84 L555.38,151.82 L555.66,152.85 L555.94,151.15 L556.22,149.17 L556.50,152.36 L556.78,150.15 L557.06,149.36 L557.34,148.40 L557.62,151.08 L557.90,151.72 L558.18,151.62 L558.46,150.28 L558.74,152.03 L559.02,150.56 L559.30,150.06 L559.58,150.69 L559.86,150.82 L560.14,150.66 L560.42,150.99 L560.70,148.50 L560.98,152.09 L561.26,150.04 L561.54,151.20 L561.82,149.80 L562.10,150.72 L562.38,150.39 L562.66,149.03 L562.94,150.91 L563.22,151.14 L563.50,149.46 L563.78,148.51 L564.06,149.90 L564.34,149.70 L564.62,150.61 L564.90,150.48 L565.18,152.03 L565.46,151.10 L565.74,150.23 L566.02,150.62 L566.30,147.97 L566.58,149.59 L566.86,149.56 L567.14,150.33 L567.42,150.74 L567.70,150.63 L567.98,151.31 L568.26,149.75 L568.54,150.69 L568.82,150.27 L569.10,150.40 L569.38,150.69 L569.66,150.11 L569.94,150.57 L570.22,150.33 L570.50,151.33 L570.78,150.24 L571.06,150.63 L571.34,152.81 L571.62,150.92 L571.90,150.81 L572.18,151.34 L572.46,149.34 L572.74,150.97 L573.02,151.01 L573.30,150.70 L573.58,151.21 L573.86,151.02 L574.14,151.40 L574.42,149.64 L574.70,150.66 L574.98,149.72 L575.26,151.42 L575.54,150.36 L575.82,148.98 L576.10,150.32 L576.38,149.25 L576.66,151.14 L576.94,149.87 L577.22,148.13 L577.50,149.86 L577.78,151.23 L578.06,150.59 L578.34,149.69 L578.62,150.93 L578.90,150.89 L579.18,151.76 L579.46,151.24 L579.74,150.75 L580.02,149.68 L580.30,150.72 L580.58,150.76 L580.86,150.50 L581.14,150.91 L581.42,149.41 L581.70,151.10 L581.98,150.59 L582.26,150.94 L582.54,150.53 L582.82,150.36 L583.10,150.91 L583.38,151.43 L583.66,150.40 L583.94,151.04 L584.22,150.03 L584.50,151.17 L584.78,150.81 L585.06,149.60 L585.34,151.94 L585.62,150.02 L585.90,150.96 L586.18,149.66 L586.46,149.28 L586.74,151.57 L587.02,149.64 L587.30,149.03 L587.58,150.81 L587.86,149.57 L588.14,150.86 L588.42,152.81 L588.70,150.73 L588.98,151.46 L589.26,151.67 L589.54,151.40 L589.82,151.07 L590.10,152.63 L590.38,151.15 L590.66,151.59 L590.94,151.38 L591.22,150.08 L591.50,151.62 L591.78,151.39 L592.06,151.97 L592.34,152.04 L592.62,152.88 L592.90,149.63 L593.18,150.92 L593.46,151.02 L593.74,150.68 L594.02,151.90 L594.30,151.46 L594.58,151.69 L594.86,150.04 L595.14,150.70 L595.42,151.56 L595.70,151.22 L595.98,151.09 L596.26,151.58 L596.54,151.45 L596.82,150.73 L597.10,153.32 L597.38,151.13 L597.66,152.41 L597.94,152.38 L598.22,152.75 L598.50,151.32 L598.78,150.94 L599.06,152.32 L599.34,152.17 L599.62,149.73 L599.90,149.50 L600.18,151.48 L600.46,151.64 L600.74,151.78 L601.02,152.44 L601.30,151.16 L601.58,154.57 L601.86,152.97 L602.14,153.36 L602.42,152.42 L602.70,150.23 L602.98,152.43 L603.26,151.71 L603.54,152.66 L603.82,152.16 L604.10,152.92 L604.38,151.49 L604.66,151.99 L604.94,152.36 L605.22,151.67 L605.50,151.97 L605.78,153.00 L606.06,154.26 L606.34,152.27 L606.62,153.26 L606.90,151.44 L607.18,152.10 L607.46,152.86 L607.74,153.12 L608.02,151.63 L608.30,153.17 L608.58,152.76 L608.86,153.86 L609.14,153.52 L609.42,153.17 L609.70,152.29 L609.98,152.92 L610.26,151.88 L610.54,151.92 L610.82,150.98 L611.10,151.50 L611.38,151.54 L611.66,152.65 L611.94,152.85 L612.22,151.51 L612.50,152.69 L612.78,153.17 L613.06,153.67 L613.34,152.72 L613.62,153.03 L613.90,152.48 L614.18,153.71 L614.46,151.39 L614.74,153.09 L615.02,150.71 L615.30,154.50 L615.58,153.77 L615.86,150.94 L616.14,152.43 L616.42,151.61 L616.70,151.29 L616.98,152.57 L617.26,152.14 L617.54,153.96 L617.82,152.50 L618.10,151.97 L618.38,152.94 L618.66,153.41 L618.94,153.81 L619.22,153.52 L619.50,151.66 L619.78,152.30 L620.06,152.91 L620.34,152.31 L620.62,153.80 L620.90,152.80 L621.18,153.06 L621.46,152.79 L621.74,153.19 L622.02,151.75 L622.30,155.14 L622.58,152.65 L622.86,152.51 L623.14,151.54 L623.42,153.13 L623.70,151.94 L623.98,153.54 L624.26,154.37 L624.54,153.83 L624.82,152.86 L625.10,154.47 L625.38,153.12 L625.66,153.26 L625.94,153.38 L626.22,152.88 L626.50,153.73 L626.78,152.20 L627.06,151.70 L627.34,154.50 L627.62,152.70 L627.90,153.07 L628.18,153.72 L628.46,152.98 L628.74,152.33 L629.02,153.26 L629.30,152.57 L629.58,153.98 L629.86,153.06 L630.14,153.24 L630.42,154.21 L630.70,152.05 L630.98,152.11 L631.26,154.19 L631.54,154.70 L631.82,153.61 L632.10,152.87 L632.38,154.68 L632.66,154.03 L632.94,154.51 L633.22,151.86 L633.50,153.44 L633.78,152.60 L634.06,152.55 L634.34,154.12 L634.62,154.27 L634.90,153.15 L635.18,153.36 L635.46,154.89 L635.74,154.22 L636.02,153.50 L636.30,154.10 L636.58,153.73 L636.86,152.46 L637.14,153.16 L637.42,153.91 L637.70,154.23 L637.98,152.54 L638.26,152.91 L638.54,153.12 L638.82,152.26 L639.10,154.71 L639.38,154.12 L639.66,154.92 L639.94,151.66 L640.22,152.95 L640.50,155.41 L640.78,152.41 L641.06,152.02 L641.34,153.94 L641.62,155.21 L641.90,154.35 L642.18,152.86 L642.46,154.28 L642.74,154.15 L643.02,154.02 L643.30,154.14 L643.58,154.56 L643.86,154.88 L644.14,155.08 L644.42,154.80 L644.70,153.67 L644.98,152.09 L645.26,154.33 L645.54,152.43 L645.82,155.97 L646.10,152.76 L646.38,152.12 L646.66,152.13 L646.94,154.23 L647.22,154.15 L647.50,154.48 L647.78,154.15 L648.06,153.17 L648.34,154.72 L648.62,153.37 L648.90,152.68 L649.18,154.99 L649.46,154.70 L649.74,153.39 L650.02,154.09 L650.30,155.35 L650.58,155.33 L650.86,153.51 L651.14,155.61 L651.42,152.21 L651.70,154.78 L651.98,155.12 L652.26,154.71 L652.54,154.99 L652.82,153.44 L653.10,154.89 L653.38,155.56 L653.66,154.30 L653.94,155.38 L654.22,155.17 L654.50,153.30 L654.78,154.92 L655.06,156.11 L655.34,154.18 L655.62,155.74 L655.90,156.11 L656.18,154.68 L656.46,155.72 L656.74,156.87 L657.02,156.79 L657.30,155.26 L657.58,157.22 L657.86,156.67 L658.14,156.47 L658.42,157.71 L658.70,156.92 L658.98,156.52 L659.26,157.01 L659.54,156.67 L659.82,157.18 L660.10,155.82 L660.38,154.20 L660.66,157.26 L660.94,156.50 L661.22,156.18 L661.50,155.66 L661.78,155.48 L662.06,155.59 L662.34,154.55 L662.62,156.10 L662.90,155.39 L663.18,154.33 L663.46,155.37 L663.74,154.72 L664.02,154.90 L664.30,155.33 L664.58,157.20 L664.86,153.62 L665.14,154.91 L665.42,155.09 L665.70,154.72 L665.98,155.62 L666.26,153.72 L666.54,153.71 L666.82,153.91 L667.10,152.53" stroke="#4a4ac0" stroke-width="0.5" stroke-opacity="0.8"/>
<path d="M426.30,204.51 L426.58,207.64 L426.86,210.49 L427.14,211.23 L427.42,210.47 L427.70,207.78 L427.98,208.62 L428.26,207.35 L428.54,204.90 L428.82,207.12 L429.10,210.68 L429.38,209.14 L429.66,207.93 L429.94,206.33 L430.22,208.77 L430.50,207.77 L430.78,209.36 L431.06,210.56 L431.34,204.30 L431.62,209.51 L431.90,206.52 L432.18,207.89 L432.46,207.35 L432.74,212.82 L433.02,211.96 L433.30,211.72 L433.58,209.11 L433.86,207.72 L434.14,210.21 L434.42,211.64 L434.70,211.18 L434.98,212.98 L435.26,210.85 L435.54,215.60 L435.82,213.27 L436.10,216.23 L436.38,212.64 L436.66,211.76 L436.94,210.60 L437.22,214.18 L437.50,214.80 L437.78,213.07 L438.06,213.72 L438.34,212.45 L438.62,212.27 L438.90,212.66 L439.18,209.58 L439.46,211.47 L439.74,213.71 L440.02,214.01 L440.30,216.04 L440.58,215.25 L440.86,214.97 L441.14,214.35 L441.42,209.97 L441.70,214.61 L441.98,212.92 L442.26,215.71 L442.54,214.34 L442.82,214.37 L443.10,214.11 L443.38,214.71 L443.66,211.69 L443.94,212.51 L444.22,217.90 L444.50,216.57 L444.78,215.07 L445.06,215.38 L445.34,215.50 L445.62,221.13 L445.90,217.43 L446.18,216.64 L446.46,215.57 L446.74,212.68 L447.02,217.32 L447.30,219.73 L447.58,219.07 L447.86,218.03 L448.14,216.64 L448.42,215.78 L448.70,218.15 L448.98,217.45 L449.26,216.34 L449.54,221.35 L449.82,217.01 L450.10,217.85 L450.38,214.84 L450.66,222.01 L450.94,218.97 L451.22,219.27 L451.50,220.04 L451.78,218.29 L452.06,218.81 L452.34,220.51 L452.62,218.80 L452.90,220.86 L453.18,222.49 L453.46,221.89 L453.74,223.12 L454.02,222.70 L454.30,223.94 L454.58,221.72 L454.86,222.10 L455.14,219.79 L455.42,221.42 L455.70,220.70 L455.98,221.90 L456.26,220.50 L456.54,222.82 L456.82,226.57 L457.10,221.39 L457.38,223.68 L457.66,223.90 L457.94,221.92 L458.22,222.76 L458.50,222.56 L458.78,224.21 L459.06,222.69 L459.34,227.85 L459.62,225.31 L459.90,225.89 L460.18,227.56 L460.46,226.46 L460.74,224.29 L461.02,225.11 L461.30,224.72 L461.58,225.17 L461.86,226.33 L462.14,221.98 L462.42,222.56 L462.70,224.69 L462.98,225.94 L463.26,224.65 L463.54,225.19 L463.82,227.22 L464.10,226.68 L464.38,225.63 L464.66,225.40 L464.94,223.83 L465.22,226.80 L465.50,226.34 L465.78,224.90 L466.06,227.08 L466.34,225.85 L466.62,225.92 L466.90,224.06 L467.18,227.72 L467.46,225.38 L467.74,226.91 L468.02,226.83 L468.30,225.73 L468.58,226.46 L468.86,226.23 L469.14,226.23 L469.42,226.87 L469.70,225.73 L469.98,227.60 L470.26,226.83 L470.54,225.06 L470.82,227.28 L471.10,226.17 L471.38,227.40 L471.66,223.55 L471.94,227.27 L472.22,223.72 L472.50,226.22 L472.78,230.53 L473.06,227.76 L473.34,228.32 L473.62,225.94 L473.90,225.39 L474.18,226.83 L474.46,227.52 L474.74,226.86 L475.02,226.10 L475.30,225.86 L475.58,226.53 L475.86,229.27 L476.14,227.13 L476.42,226.66 L476.70,226.84 L476.98,225.93 L477.26,225.45 L477.54,227.48 L477.82,229.08 L478.10,227.99 L478.38,225.52 L478.66,229.34 L478.94,227.70 L479.22,229.84 L479.50,227.19 L479.78,225.62 L480.06,227.68 L480.34,227.19 L480.62,225.98 L480.90,226.43 L481.18,226.88 L481.46,226.27 L481.74,228.22 L482.02,227.82 L482.30,226.84 L482.58,226.97 L482.86,228.58 L483.14,227.96 L483.42,225.94 L483.70,227.79 L483.98,229.67 L484.26,227.86 L484.54,226.40 L484.82,229.42 L485.10,230.65 L485.38,227.69 L485.66,224.62 L485.94,225.68 L486.22,229.90 L486.50,227.34 L486.78,228.46 L487.06,228.27 L487.34,227.81 L487.62,229.71 L487.90,227.88 L488.18,228.39 L488.46,228.06 L488.74,227.98 L489.02,230.71 L489.30,226.31 L489.58,226.18 L489.86,229.05 L490.14,226.16 L490.42,227.97 L490.70,226.53 L490.98,229.03 L491.26,227.89 L491.54,228.79 L491.82,227.10 L492.10,227.86 L492.38,225.29 L492.66,229.13 L492.94,228.65 L493.22,228.22 L493.50,228.31 L493.78,227.83 L494.06,228.26 L494.34,230.68 L494.62,227.70 L494.90,227.89 L495.18,229.36 L495.46,228.86 L495.74,227.89 L496.02,230.65 L496.30,230.73 L496.58,228.38 L496.86,230.99 L497.14,227.20 L497.42,230.75 L497.70,227.01 L497.98,229.45 L498.26,228.87 L498.54,228.65 L498.82,229.88 L499.10,228.02 L499.38,228.33 L499.66,227.92 L499.94,231.10 L500.22,228.65 L500.50,229.83 L500.78,229.18 L501.06,230.73 L501.34,228.32 L501.62,228.56 L501.90,228.88 L502.18,229.91 L502.46,228.83 L502.74,230.32 L503.02,230.47 L503.30,231.10 L503.58,230.55 L503.86,231.61 L504.14,229.61 L504.42,229.47 L504.70,229.31 L504.98,229.35 L505.26,228.65 L505.54,230.71 L505.82,230.41 L506.10,227.89 L506.38,230.25 L506.66,229.59 L506.94,229.42 L507.22,230.20 L507.50,231.97 L507.78,230.74 L508.06,228.34 L508.34,231.04 L508.62,229.66 L508.90,232.59 L509.18,230.14 L509.46,230.63 L509.74,230.50 L510.02,229.80 L510.30,230.30 L510.58,230.65 L510.86,233.32 L511.14,230.95 L511.42,231.41 L511.70,230.97 L511.98,231.08 L512.26,231.27 L512.54,232.51 L512.82,227.91 L513.10,230.20 L513.38,229.98 L513.66,231.94 L513.94,230.06 L514.22,232.09 L514.50,232.25 L514.78,230.40 L515.06,231.68 L515.34,230.52 L515.62,232.02 L515.90,231.67 L516.18,232.46 L516.46,232.05 L516.74,230.00 L517.02,232.79 L517.30,231.21 L517.58,232.39 L517.86,231.30 L518.14,232.27 L518.42,229.91 L518.70,232.76 L518.98,230.18 L519.26,231.13 L519.54,231.85 L519.82,229.64 L520.10,231.77 L520.38,231.39 L520.66,232.28 L520.94,231.29 L521.22,230.29 L521.50,230.21 L521.78,230.52 L522.06,231.60 L522.34,231.27 L522.62,232.15 L522.90,233.19 L523.18,231.18 L523.46,231.01 L523.74,231.96 L524.02,232.04 L524.30,229.19 L524.58,230.87 L524.86,231.67 L525.14,232.26 L525.42,231.09 L525.70,230.50 L525.98,233.92 L526.26,228.73 L526.54,233.22 L526.82,230.94 L527.10,231.25 L527.38,231.67 L527.66,232.07 L527.94,230.65 L528.22,230.19 L528.50,232.07 L528.78,233.10 L529.06,231.44 L529.34,234.23 L529.62,230.38 L529.90,232.68 L530.18,232.33 L530.46,233.24 L530.74,230.61 L531.02,232.52 L531.30,231.70 L531.58,229.34 L531.86,231.35 L532.14,230.27 L532.42,231.46 L532.70,232.53 L532.98,231.77 L533.26,233.89 L533.54,232.63 L533.82,231.26 L534.10,231.55 L534.38,232.35 L534.66,231.14 L534.94,232.55 L535.22,232.60 L535.50,233.02 L535.78,232.19 L536.06,232.17 L536.34,230.78 L536.62,232.28 L536.90,231.90 L537.18,232.26 L537.46,232.52 L537.74,231.35 L538.02,231.67 L538.30,231.35 L538.58,230.87 L538.86,230.19 L539.14,231.01 L539.42,232.64 L539.70,229.67 L539.98,232.66 L540.26,232.92 L540.54,233.12 L540.82,231.80 L541.10,231.80 L541.38,233.30 L541.66,232.98 L541.94,234.00 L542.22,231.79 L542.50,231.75 L542.78,233.40 L543.06,231.83 L543.34,232.10 L543.62,233.63 L543.90,233.09 L544.18,231.84 L544.46,232.88 L544.74,232.23 L545.02,233.41 L545.30,232.66 L545.58,231.40 L545.86,234.15 L546.14,232.25 L546.42,232.39 L546.70,231.68 L546.98,232.35 L547.26,231.95 L547.54,232.95 L547.82,232.91 L548.10,233.63 L548.38,233.21 L548.66,231.86 L548.94,231.66 L549.22,231.55 L549.50,233.46 L549.78,231.60 L550.06,234.04 L550.34,232.63 L550.62,232.40 L550.90,232.64 L551.18,234.37 L551.46,232.59 L551.74,232.09 L552.02,231.37 L552.30,230.79 L552.58,231.77 L552.86,233.86 L553.14,233.14 L553.42,231.73 L553.70,229.92 L553.98,233.70 L554.26,232.91 L554.54,230.35 L554.82,232.32 L555.10,231.40 L555.38,233.63 L555.66,233.24 L555.94,231.86 L556.22,230.21 L556.50,232.26 L556.78,235.27 L557.06,233.11 L557.34,232.05 L557.62,233.60 L557.90,232.07 L558.18,234.39 L558.46,230.80 L558.74,232.18 L559.02,234.30 L559.30,233.90 L559.58,233.27 L559.86,231.13 L560.14,232.73 L560.42,233.41 L560.70,232.23 L560.98,232.73 L561.26,233.67 L561.54,232.32 L561.82,233.29 L562.10,232.45 L562.38,231.52 L562.66,231.14 L562.94,231.99 L563.22,231.80 L563.50,233.82 L563.78,232.84 L564.06,230.73 L564.34,234.35 L564.62,235.36 L564.90,232.29 L565.18,233.39 L565.46,232.67 L565.74,233.63 L566.02,232.93 L566.30,233.31 L566.58,232.81 L566.86,232.17 L567.14,232.47 L567.42,232.01 L567.70,232.15 L567.98,232.41 L568.26,235.60 L568.54,233.70 L568.82,234.88 L569.10,231.32 L569.38,232.61 L569.66,233.97 L569.94,234.27 L570.22,233.44 L570.50,232.46 L570.78,231.39 L571.06,233.19 L571.34,231.18 L571.62,233.22 L571.90,232.38 L572.18,232.23 L572.46,232.20 L572.74,231.32 L573.02,231.60 L573.30,233.32 L573.58,232.20 L573.86,232.11 L574.14,233.94 L574.42,233.60 L574.70,233.33 L574.98,231.37 L575.26,234.13 L575.54,233.61 L575.82,231.96 L576.10,232.39 L576.38,233.99 L576.66,234.33 L576.94,232.68 L577.22,231.87 L577.50,234.42 L577.78,232.62 L578.06,234.01 L578.34,233.22 L578.62,233.03 L578.90,232.75 L579.18,234.78 L579.46,232.83 L579.74,233.25 L580.02,232.56 L580.30,235.36 L580.58,233.32 L580.86,232.10 L581.14,233.17 L581.42,231.46 L581.70,233.06 L581.98,232.02 L582.26,234.61 L582.54,234.87 L582.82,235.84 L583.10,233.02 L583.38,232.47 L583.66,231.19 L583.94,233.68 L584.22,232.63 L584.50,234.85 L584.78,235.67 L585.06,231.96 L585.34,233.36 L585.62,235.32 L585.90,231.96 L586.18,232.25 L586.46,234.47 L586.74,233.95 L587.02,231.65 L587.30,234.09 L587.58,233.23 L587.86,233.63 L588.14,234.05 L588.42,235.49 L588.70,234.60 L588.98,232.66 L589.26,235.19 L589.54,234.48 L589.82,234.20 L590.10,232.99 L590.38,232.77 L590.66,233.76 L590.94,235.29 L591.22,234.25 L591.50,233.94 L591.78,234.08 L592.06,234.12 L592.34,233.47 L592.62,233.86 L592.90,231.82 L593.18,233.76 L593.46,234.80 L593.74,234.07 L594.02,235.43 L594.30,235.53 L594.58,233.54 L594.86,232.53 L595.14,233.91 L595.42,232.46 L595.70,234.79 L595.98,233.79 L596.26,234.68 L596.54,233.64 L596.82,233.16 L597.10,235.63 L597.38,233.82 L597.66,234.05 L597.94,234.17 L598.22,233.52 L598.50,233.67 L598.78,232.58 L599.06,234.02 L599.34,234.40 L599.62,233.07 L599.90,232.20 L600.18,233.51 L600.46,234.71 L600.74,234.80 L601.02,234.46 L601.30,233.19 L601.58,234.52 L601.86,233.95 L602.14,235.01 L602.42,234.67 L602.70,233.19 L602.98,234.41 L603.26,234.41 L603.54,235.34 L603.82,236.17 L604.10,232.70 L604.38,233.67 L604.66,233.68 L604.94,233.73 L605.22,233.98 L605.50,236.02 L605.78,235.03 L606.06,234.25 L606.34,234.95 L606.62,234.57 L606.90,233.87 L607.18,234.42 L607.46,234.98 L607.74,235.63 L608.02,233.40 L608.30,234.57 L608.58,234.77 L608.86,234.87 L609.14,234.10 L609.42,234.05 L609.70,232.84 L609.98,233.39 L610.26,233.78 L610.54,233.68 L610.82,234.85 L611.10,234.06 L611.38,233.94 L611.66,233.61 L611.94,234.54 L612.22,232.93 L612.50,236.07 L612.78,233.05 L613.06,233.81 L613.34,234.40 L613.62,234.39 L613.90,234.88 L614.18,232.34 L614.46,234.41 L614.74,233.16 L615.02,235.87 L615.30,232.36 L615.58,234.34 L615.86,235.07 L616.14,234.35 L616.42,234.62 L616.70,234.50 L616.98,234.89 L617.26,235.52 L617.54,234.52 L617.82,235.67 L618.10,234.51 L618.38,235.45 L618.66,233.12 L618.94,236.08 L619.22,235.02 L619.50,235.17 L619.78,236.25 L620.06,233.66 L620.34,233.44 L620.62,231.76 L620.90,235.64 L621.18,235.04 L621.46,236.66 L621.74,234.62 L622.02,234.94 L622.30,234.55 L622.58,234.77 L622.86,234.82 L623.14,233.91 L623.42,233.74 L623.70,234.12 L623.98,233.34 L624.26,235.94 L624.54,233.71 L624.82,234.25 L625.10,234.49 L625.38,233.92 L625.66,236.08 L625.94,234.92 L626.22,235.59 L626.50,233.08 L626.78,233.73 L627.06,232.22 L627.34,235.74 L627.62,233.91 L627.90,235.14 L628.18,235.77 L628.46,233.05 L628.74,235.26 L629.02,234.29 L629.30,234.87 L629.58,234.74 L629.86,235.08 L630.14,234.36 L630.42,232.94 L630.70,233.64 L630.98,234.35 L631.26,234.39 L631.54,233.41 L631.82,233.85 L632.10,234.58 L632.38,235.69 L632.66,234.53 L632.94,233.85 L633.22,234.69 L633.50,233.44 L633.78,234.94 L634.06,233.02 L634.34,235.35 L634.62,233.82 L634.90,235.83 L635.18,234.30 L635.46,234.07 L635.74,234.75 L636.02,234.22 L636.30,234.48 L636.58,236.56 L636.86,235.20 L637.14,235.16 L637.42,232.42 L637.70,235.91 L637.98,235.31 L638.26,234.45 L638.54,233.34 L638.82,233.06 L639.10,233.68 L639.38,234.52 L639.66,234.83 L639.94,234.93 L640.22,234.92 L640.50,234.70 L640.78,234.38 L641.06,233.23 L641.34,236.87 L641.62,235.63 L641.90,235.71 L642.18,234.53 L642.46,233.24 L642.74,236.27 L643.02,233.76 L643.30,233.14 L643.58,235.34 L643.86,236.20 L644.14,234.32 L644.42,234.78 L644.70,235.45 L644.98,234.91 L645.26,234.75 L645.54,235.50 L645.82,235.57 L646.10,234.12 L646.38,234.81 L646.66,235.16 L646.94,235.69 L647.22,235.06 L647.50,234.32 L647.78,234.90 L648.06,233.75 L648.34,234.65 L648.62,235.97 L648.90,234.97 L649.18,235.23 L649.46,235.46 L649.74,234.96 L650.02,233.87 L650.30,234.19 L650.58,236.11 L650.86,234.95 L651.14,233.67 L651.42,236.76 L651.70,234.70 L651.98,233.85 L652.26,237.48 L652.54,236.01 L652.82,235.44 L653.10,236.21 L653.38,236.35 L653.66,235.18 L653.94,236.82 L654.22,235.51 L654.50,235.62 L654.78,234.95 L655.06,236.86 L655.34,239.23 L655.62,235.87 L655.90,236.52 L656.18,238.16 L656.46,239.58 L656.74,237.58 L657.02,238.16 L657.30,237.53 L657.58,237.72 L657.86,239.17 L658.14,237.78 L658.42,239.40 L658.70,239.38 L658.98,238.15 L659.26,237.68 L659.54,238.65 L659.82,237.44 L660.10,237.74 L660.38,238.48 L660.66,238.54 L660.94,238.11 L661.22,235.98 L661.50,237.47 L661.78,238.32 L662.06,238.78 L662.34,238.36 L662.62,235.20 L662.90,236.08 L663.18,236.49 L663.46,235.69 L663.74,234.85 L664.02,235.30 L664.30,236.98 L664.58,235.95 L664.86,236.48 L665.14,236.30 L665.42,237.79 L665.70,235.74 L665.98,236.62 L666.26,234.96 L666.54,235.18 L666.82,233.36 L667.10,234.16" stroke="#3ee23e" stroke-width="0.5" stroke-opacity="0.85"/>
</g>
<rect x="425.50" y="3.30" width="242.50" height="246.00" fill="none" stroke="#000" stroke-width="1.3"/>
<path d="M437.62,249.30V247.10 M449.75,249.30V245.70 M461.88,249.30V247.10 M474.00,249.30V245.70 M486.12,249.30V247.10 M498.25,249.30V245.70 M510.38,249.30V247.10 M522.50,249.30V245.70 M534.62,249.30V247.10 M546.75,249.30V245.70 M558.88,249.30V247.10 M571.00,249.30V245.70 M583.12,249.30V247.10 M595.25,249.30V245.70 M607.38,249.30V247.10 M619.50,249.30V245.70 M631.62,249.30V247.10 M643.75,249.30V245.70 M655.88,249.30V247.10" stroke="#000" stroke-width="1.3" fill="none"/>
<text transform="translate(425.50,260.80) scale(1.370,1)" text-anchor="middle" style="font-family:'Liberation Sans',sans-serif;font-weight:bold;font-size:9.60px" fill="#000">30</text>
<text transform="translate(449.75,260.80) scale(1.370,1)" text-anchor="middle" style="font-family:'Liberation Sans',sans-serif;font-weight:bold;font-size:9.60px" fill="#000">35</text>
<text transform="translate(474.00,260.80) scale(1.370,1)" text-anchor="middle" style="font-family:'Liberation Sans',sans-serif;font-weight:bold;font-size:9.60px" fill="#000">40</text>
<text transform="translate(498.25,260.80) scale(1.370,1)" text-anchor="middle" style="font-family:'Liberation Sans',sans-serif;font-weight:bold;font-size:9.60px" fill="#000">45</text>
<text transform="translate(522.50,260.80) scale(1.370,1)" text-anchor="middle" style="font-family:'Liberation Sans',sans-serif;font-weight:bold;font-size:9.60px" fill="#000">50</text>
<text transform="translate(546.75,260.80) scale(1.370,1)" text-anchor="middle" style="font-family:'Liberation Sans',sans-serif;font-weight:bold;font-size:9.60px" fill="#000">55</text>
<text transform="translate(571.00,260.80) scale(1.370,1)" text-anchor="middle" style="font-family:'Liberation Sans',sans-serif;font-weight:bold;font-size:9.60px" fill="#000">60</text>
<text transform="translate(595.25,260.80) scale(1.370,1)" text-anchor="middle" style="font-family:'Liberation Sans',sans-serif;font-weight:bold;font-size:9.60px" fill="#000">65</text>
<text transform="translate(619.50,260.80) scale(1.370,1)" text-anchor="middle" style="font-family:'Liberation Sans',sans-serif;font-weight:bold;font-size:9.60px" fill="#000">70</text>
<text transform="translate(643.75,260.80) scale(1.370,1)" text-anchor="middle" style="font-family:'Liberation Sans',sans-serif;font-weight:bold;font-size:9.60px" fill="#000">75</text>
<text transform="translate(668.00,260.80) scale(1.370,1)" text-anchor="middle" style="font-family:'Liberation Sans',sans-serif;font-weight:bold;font-size:9.60px" fill="#000">80</text>
<text transform="translate(562.70,278.60) scale(1.340,1)" text-anchor="middle" style="font-family:'Liberation Sans',sans-serif;font-weight:bold;font-size:13.00px" fill="#000">2&#952; (in deg.)</text>
<text transform="translate(428.30,14.20) scale(1.420,1)" text-anchor="start" style="font-family:'Liberation Sans',sans-serif;font-weight:bold;font-size:11.20px" fill="#000">(b)</text>
<text transform="translate(408.2,149.7) rotate(-90)" textLength="87.2" lengthAdjust="spacingAndGlyphs" style="font-family:'Liberation Sans',sans-serif;font-weight:bold;font-size:13px" fill="#000">Intensity (a.u)</text>
<text transform="translate(627.00,43.60) scale(1.165,1)" text-anchor="start" style="font-family:'Liberation Sans',sans-serif;font-weight:bold;font-size:10.40px" fill="#e41e1e" stroke="#e41e1e" stroke-width="0.35">400&#176;C</text>
<text transform="translate(624.20,137.30) scale(1.160,1)" text-anchor="start" style="font-family:'Liberation Sans',sans-serif;font-weight:bold;font-size:10.40px" fill="#1a1a84" stroke="#1a1a84" stroke-width="0.35">300&#176;C</text>
<text transform="translate(625.00,208.70) scale(1.160,1)" text-anchor="start" style="font-family:'Liberation Sans',sans-serif;font-weight:bold;font-size:10.40px" fill="#38e038" stroke="#38e038" stroke-width="0.35">250&#176;C</text>
<text transform="translate(465.65,48.80) rotate(-90)" textLength="16.50" lengthAdjust="spacingAndGlyphs" style="font-family:'Liberation Sans',sans-serif;font-weight:bold;font-size:8px" fill="#000">(111)</text>
<text transform="translate(496.85,46.00) rotate(-90)" textLength="17.00" lengthAdjust="spacingAndGlyphs" style="font-family:'Liberation Sans',sans-serif;font-weight:bold;font-size:8px" fill="#000">(200)</text>
<text transform="translate(590.05,63.20) rotate(-90)" textLength="16.90" lengthAdjust="spacingAndGlyphs" style="font-family:'Liberation Sans',sans-serif;font-weight:bold;font-size:8px" fill="#000">(220)</text>
<text transform="translate(649.25,70.30) rotate(-90)" textLength="17.80" lengthAdjust="spacingAndGlyphs" style="font-family:'Liberation Sans',sans-serif;font-weight:bold;font-size:8px" fill="#000">(311)</text>
<text transform="translate(665.35,72.60) rotate(-90)" textLength="16.90" lengthAdjust="spacingAndGlyphs" style="font-family:'Liberation Sans',sans-serif;font-weight:bold;font-size:8px" fill="#000">(222)</text>
</svg></body></html>
